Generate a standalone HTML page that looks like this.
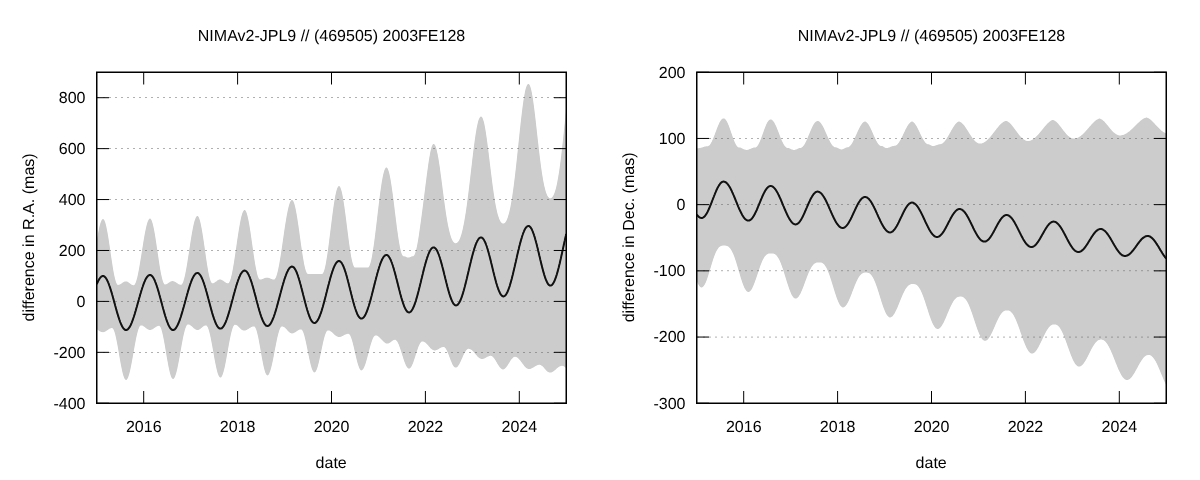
<!DOCTYPE html>
<html lang="en"><head><meta charset="utf-8"><title>NIMAv2-JPL9 // (469505) 2003FE128</title>
<style>html,body{margin:0;padding:0;background:#fff;width:1200px;height:480px;overflow:hidden}svg{display:block}</style></head>
<body>
<svg width="1200" height="480" viewBox="0 0 1200 480" font-family="'Liberation Sans', Arial, sans-serif" font-size="16" fill="#000" text-rendering="geometricPrecision">
<rect width="1200" height="480" fill="#fff"/>
<linearGradient id="g1" gradientUnits="userSpaceOnUse" x1="96.63" y1="0" x2="102.63" y2="0" spreadMethod="repeat"><stop offset="0" stop-color="#606060"/><stop offset="0.3333" stop-color="#606060"/><stop offset="0.3333" stop-color="#606060" stop-opacity="0"/><stop offset="1" stop-color="#606060" stop-opacity="0"/></linearGradient>
<clipPath id="c1"><rect x="96.75" y="72.25" width="469.50" height="331.00"/></clipPath>
<g clip-path="url(#c1)"><path d="M96.8 241.0L97.2 238.0L97.8 235.2L98.2 232.4L98.8 229.9L99.2 227.6L99.8 225.6L100.2 223.7L100.8 222.2L101.2 220.9L101.8 220.0L102.2 219.4L102.8 219.0L103.2 219.0L103.8 219.4L104.2 220.1L104.8 221.2L105.2 222.6L105.8 224.3L106.2 226.3L106.8 228.7L107.2 231.2L107.8 234.0L108.2 237.0L108.8 240.1L109.2 243.4L109.8 246.8L110.2 250.2L110.8 253.7L111.2 257.1L111.8 260.5L112.2 263.8L112.8 266.9L113.2 269.9L113.8 272.7L114.2 275.2L114.8 277.6L115.2 279.6L115.8 281.3L116.2 282.7L116.8 283.8L117.2 284.5L117.8 284.9L118.2 284.9L118.8 284.8L119.2 284.7L119.8 284.5L120.2 284.3L120.8 284.0L121.2 283.7L121.8 283.3L122.2 283.0L122.8 282.6L123.2 282.3L123.8 282.0L124.2 281.8L124.8 281.6L125.2 281.5L125.8 281.4L126.2 281.4L126.8 281.5L127.2 281.6L127.8 281.9L128.2 282.2L128.8 282.5L129.2 282.9L129.8 283.3L130.2 283.7L130.8 284.0L131.2 284.4L131.8 284.7L132.2 284.9L132.8 285.1L133.2 285.2L133.8 285.2L134.2 284.9L134.8 284.4L135.2 283.6L135.8 282.4L136.2 281.0L136.8 279.3L137.2 277.4L137.8 275.2L138.2 272.8L138.8 270.3L139.2 267.5L139.8 264.6L140.2 261.6L140.8 258.6L141.2 255.4L141.8 252.2L142.2 249.0L142.8 245.9L143.2 242.8L143.8 239.7L144.2 236.8L144.8 234.1L145.2 231.5L145.8 229.0L146.2 226.8L146.8 224.8L147.2 223.1L147.8 221.6L148.2 220.5L148.8 219.6L149.2 218.9L149.8 218.6L150.2 218.6L150.8 219.0L151.2 219.7L151.8 220.8L152.2 222.2L152.8 223.9L153.2 225.9L153.8 228.2L154.2 230.8L154.8 233.6L155.2 236.6L155.8 239.7L156.2 243.0L156.8 246.4L157.2 249.8L157.8 253.2L158.2 256.6L158.8 260.0L159.2 263.3L159.8 266.4L160.2 269.4L160.8 272.2L161.2 274.8L161.8 277.1L162.2 279.1L162.8 280.8L163.2 282.2L163.8 283.3L164.2 284.0L164.8 284.4L165.2 284.4L165.8 284.3L166.2 284.2L166.8 284.0L167.2 283.7L167.8 283.4L168.2 283.1L168.8 282.7L169.2 282.4L169.8 282.0L170.2 281.7L170.8 281.5L171.2 281.3L171.8 281.2L172.2 281.1L172.8 281.1L173.2 281.2L173.8 281.3L174.2 281.5L174.8 281.7L175.2 282.0L175.8 282.3L176.2 282.6L176.8 283.0L177.2 283.3L177.8 283.6L178.2 283.9L178.8 284.2L179.2 284.4L179.8 284.6L180.2 284.7L180.8 284.8L181.2 284.8L181.8 284.4L182.2 283.8L182.8 282.9L183.2 281.7L183.8 280.1L184.2 278.3L184.8 276.3L185.2 274.0L185.8 271.5L186.2 268.8L186.8 266.0L187.2 263.0L187.8 259.8L188.2 256.6L188.8 253.4L189.2 250.1L189.8 246.8L190.2 243.5L190.8 240.3L191.2 237.2L191.8 234.3L192.2 231.4L192.8 228.8L193.2 226.3L193.8 224.1L194.2 222.1L194.8 220.3L195.2 218.9L195.8 217.7L196.2 216.8L196.8 216.3L197.2 216.0L197.8 216.1L198.2 216.5L198.8 217.3L199.2 218.5L199.8 220.0L200.2 221.8L200.8 223.9L201.2 226.4L201.8 229.0L202.2 231.9L202.8 235.0L203.2 238.3L203.8 241.6L204.2 245.1L204.8 248.6L205.2 252.1L205.8 255.6L206.2 259.0L206.8 262.4L207.2 265.6L207.8 268.6L208.2 271.4L208.8 273.9L209.2 276.2L209.8 278.2L210.2 279.9L210.8 281.3L211.2 282.3L211.8 283.0L212.2 283.3L212.8 283.3L213.2 283.2L213.8 283.0L214.2 282.8L214.8 282.5L215.2 282.1L215.8 281.8L216.2 281.4L216.8 281.0L217.2 280.6L217.8 280.3L218.2 280.0L218.8 279.7L219.2 279.6L219.8 279.5L220.2 279.5L220.8 279.6L221.2 279.7L221.8 279.9L222.2 280.2L222.8 280.5L223.2 280.8L223.8 281.2L224.2 281.6L224.8 282.0L225.2 282.3L225.8 282.6L226.2 282.9L226.8 283.1L227.2 283.2L227.8 283.3L228.2 283.3L228.8 282.9L229.2 282.3L229.8 281.3L230.2 280.0L230.8 278.4L231.2 276.6L231.8 274.5L232.2 272.1L232.8 269.5L233.2 266.6L233.8 263.7L234.2 260.5L234.8 257.2L235.2 253.9L235.8 250.5L236.2 247.0L236.8 243.5L237.2 240.1L237.8 236.7L238.2 233.4L238.8 230.3L239.2 227.2L239.8 224.4L240.2 221.7L240.8 219.3L241.2 217.1L241.8 215.2L242.2 213.6L242.8 212.2L243.2 211.2L243.8 210.5L244.2 210.1L244.8 210.0L245.2 210.3L245.8 211.0L246.2 212.0L246.8 213.3L247.2 215.0L247.8 216.9L248.2 219.2L248.8 221.7L249.2 224.5L249.8 227.5L250.2 230.6L250.8 233.9L251.2 237.4L251.8 240.9L252.2 244.4L252.8 247.9L253.2 251.4L253.8 254.9L254.2 258.2L254.8 261.4L255.2 264.4L255.8 267.2L256.2 269.8L256.8 272.1L257.2 274.2L257.8 275.9L258.2 277.3L258.8 278.4L259.2 279.1L259.8 279.5L260.2 279.5L260.8 279.4L261.2 279.4L261.8 279.2L262.2 279.1L262.8 278.9L263.2 278.7L263.8 278.5L264.2 278.3L264.8 278.1L265.2 278.0L265.8 277.8L266.2 277.8L266.8 277.7L267.2 277.7L267.8 277.8L268.2 277.8L268.8 278.0L269.2 278.1L269.8 278.3L270.2 278.5L270.8 278.7L271.2 278.9L271.8 279.1L272.2 279.2L272.8 279.4L273.2 279.4L273.8 279.5L274.2 279.5L274.8 279.2L275.2 278.6L275.8 277.7L276.2 276.5L276.8 275.0L277.2 273.3L277.8 271.3L278.2 269.1L278.8 266.6L279.2 263.9L279.8 261.1L280.2 258.1L280.8 255.0L281.2 251.7L281.8 248.4L282.2 244.9L282.8 241.5L283.2 238.0L283.8 234.6L284.2 231.1L284.8 227.8L285.2 224.5L285.8 221.4L286.2 218.4L286.8 215.6L287.2 212.9L287.8 210.4L288.2 208.2L288.8 206.2L289.2 204.5L289.8 203.0L290.2 201.8L290.8 200.9L291.2 200.3L291.8 200.0L292.2 200.0L292.8 200.4L293.2 201.1L293.8 202.2L294.2 203.6L294.8 205.3L295.2 207.3L295.8 209.6L296.2 212.2L296.8 215.0L297.2 218.0L297.8 221.2L298.2 224.5L298.8 228.0L299.2 231.6L299.8 235.2L300.2 238.8L300.8 242.4L301.2 246.0L301.8 249.5L302.2 252.8L302.8 256.0L303.2 259.0L303.8 261.8L304.2 264.4L304.8 266.7L305.2 268.7L305.8 270.4L306.2 271.8L306.8 272.9L307.2 273.6L307.8 274.0L308.2 274.0L308.8 274.0L309.2 274.0L309.8 274.0L310.2 274.0L310.8 274.0L311.2 274.0L311.8 274.0L312.2 274.0L312.8 274.0L313.2 274.0L313.8 274.0L314.2 274.0L314.8 274.0L315.2 274.0L315.8 274.0L316.2 274.0L316.8 274.0L317.2 274.0L317.8 274.0L318.2 274.0L318.8 274.0L319.2 274.0L319.8 274.0L320.2 274.0L320.8 274.0L321.2 274.0L321.8 274.0L322.2 274.0L322.8 273.6L323.2 272.8L323.8 271.7L324.2 270.3L324.8 268.4L325.2 266.3L325.8 263.9L326.2 261.1L326.8 258.1L327.2 254.9L327.8 251.4L328.2 247.8L328.8 244.0L329.2 240.1L329.8 236.1L330.2 232.0L330.8 228.0L331.2 223.9L331.8 219.9L332.2 216.0L332.8 212.2L333.2 208.6L333.8 205.1L334.2 201.9L334.8 198.9L335.2 196.1L335.8 193.7L336.2 191.6L336.8 189.7L337.2 188.3L337.8 187.2L338.2 186.4L338.8 186.0L339.2 186.0L339.8 186.4L340.2 187.2L340.8 188.4L341.2 189.9L341.8 191.8L342.2 194.0L342.8 196.5L343.2 199.4L343.8 202.5L344.2 205.8L344.8 209.3L345.2 213.0L345.8 216.8L346.2 220.7L346.8 224.7L347.2 228.7L347.8 232.7L348.2 236.6L348.8 240.4L349.2 244.1L349.8 247.6L350.2 250.9L350.8 254.0L351.2 256.9L351.8 259.4L352.2 261.6L352.8 263.5L353.2 265.0L353.8 266.2L354.2 267.0L354.8 267.4L355.2 267.4L355.8 267.4L356.2 267.4L356.8 267.4L357.2 267.4L357.8 267.4L358.2 267.4L358.8 267.4L359.2 267.4L359.8 267.4L360.2 267.4L360.8 267.4L361.2 267.4L361.8 267.4L362.2 267.4L362.8 267.4L363.2 267.4L363.8 267.4L364.2 267.4L364.8 267.4L365.2 267.4L365.8 267.4L366.2 267.4L366.8 267.4L367.2 267.4L367.8 267.4L368.2 267.4L368.8 267.0L369.2 266.3L369.8 265.2L370.2 263.8L370.8 262.0L371.2 259.9L371.8 257.5L372.2 254.8L372.8 251.8L373.2 248.6L373.8 245.2L374.2 241.5L374.8 237.7L375.2 233.7L375.8 229.7L376.2 225.5L376.8 221.2L377.2 217.0L377.8 212.7L378.2 208.5L378.8 204.3L379.2 200.3L379.8 196.3L380.2 192.5L380.8 188.9L381.2 185.5L381.8 182.3L382.2 179.4L382.8 176.8L383.2 174.5L383.8 172.4L384.2 170.7L384.8 169.4L385.2 168.4L385.8 167.7L386.2 167.4L386.8 167.5L387.2 167.9L387.8 168.8L388.2 169.9L388.8 171.5L389.2 173.3L389.8 175.5L390.2 178.1L390.8 180.8L391.2 183.9L391.8 187.2L392.2 190.7L392.8 194.3L393.2 198.2L393.8 202.1L394.2 206.1L394.8 210.2L395.2 214.2L395.8 218.3L396.2 222.3L396.8 226.2L397.2 230.0L397.8 233.6L398.2 237.1L398.8 240.3L399.2 243.3L399.8 246.1L400.2 248.5L400.8 250.7L401.2 252.5L401.8 253.9L402.2 255.0L402.8 255.8L403.2 256.2L403.8 256.2L404.2 256.3L404.8 256.4L405.2 256.6L405.8 256.8L406.2 257.1L406.8 257.3L407.2 257.4L407.8 257.6L408.2 257.6L408.8 257.6L409.2 257.5L409.8 257.3L410.2 257.1L410.8 256.9L411.2 256.6L411.8 256.4L412.2 256.3L412.8 256.2L413.2 256.2L413.8 255.8L414.2 255.2L414.8 254.2L415.2 252.9L415.8 251.3L416.2 249.4L416.8 247.3L417.2 244.8L417.8 242.1L418.2 239.2L418.8 236.0L419.2 232.6L419.8 229.0L420.2 225.4L420.8 221.9L421.2 218.3L421.8 214.6L422.2 210.8L422.8 207.0L423.2 203.1L423.8 199.1L424.2 195.2L424.8 191.2L425.2 187.3L425.8 183.3L426.2 179.4L426.8 175.6L427.2 171.8L427.8 168.2L428.2 164.6L428.8 161.3L429.2 158.1L429.8 155.2L430.2 152.6L430.8 150.2L431.2 148.2L431.8 146.6L432.2 145.4L432.8 144.5L433.2 144.1L433.8 144.0L434.2 144.2L434.8 144.8L435.2 145.6L435.8 146.8L436.2 148.3L436.8 150.2L437.2 152.4L437.8 154.8L438.2 157.6L438.8 160.5L439.2 163.7L439.8 167.1L440.2 170.7L440.8 174.4L441.2 178.1L441.8 182.0L442.2 185.8L442.8 189.7L443.2 193.6L443.8 197.4L444.2 201.1L444.8 204.7L445.2 208.3L445.8 211.7L446.2 214.9L446.8 218.0L447.2 220.9L447.8 223.7L448.2 226.3L448.8 228.6L449.2 230.8L449.8 232.8L450.2 234.6L450.8 236.3L451.2 237.7L451.8 238.9L452.2 240.0L452.8 240.9L453.2 241.7L453.8 242.3L454.2 242.7L454.8 243.0L455.2 243.2L455.8 243.2L456.2 243.1L456.8 242.9L457.2 242.6L457.8 242.2L458.2 241.6L458.8 240.9L459.2 240.0L459.8 238.9L460.2 237.7L460.8 236.3L461.2 234.7L461.8 233.0L462.2 231.1L462.8 228.9L463.2 226.6L463.8 224.1L464.2 221.5L464.8 218.6L465.2 215.6L465.8 212.4L466.2 209.0L466.8 205.4L467.2 201.8L467.8 197.9L468.2 194.0L468.8 189.9L469.2 185.8L469.8 181.6L470.2 177.3L470.8 173.0L471.2 168.7L471.8 164.4L472.2 160.1L472.8 155.9L473.2 151.8L473.8 147.8L474.2 143.9L474.8 140.2L475.2 136.7L475.8 133.4L476.2 130.4L476.8 127.6L477.2 125.2L477.8 123.0L478.2 121.1L478.8 119.6L479.2 118.4L479.8 117.5L480.2 116.9L480.8 116.6L481.2 116.6L481.8 116.9L482.2 117.6L482.8 118.6L483.2 119.9L483.8 121.6L484.2 123.6L484.8 126.0L485.2 128.7L485.8 131.7L486.2 134.9L486.8 138.4L487.2 142.1L487.8 145.9L488.2 149.9L488.8 153.9L489.2 158.0L489.8 162.2L490.2 166.3L490.8 170.5L491.2 174.5L491.8 178.5L492.2 182.4L492.8 186.2L493.2 189.8L493.8 193.3L494.2 196.6L494.8 199.8L495.2 202.7L495.8 205.4L496.2 208.0L496.8 210.3L497.2 212.4L497.8 214.4L498.2 216.1L498.8 217.6L499.2 219.0L499.8 220.1L500.2 221.1L500.8 221.9L501.2 222.5L501.8 223.0L502.2 223.3L502.8 223.5L503.2 223.5L503.8 223.4L504.2 223.2L504.8 222.9L505.2 222.4L505.8 221.7L506.2 220.9L506.8 219.9L507.2 218.7L507.8 217.4L508.2 215.8L508.8 214.1L509.2 212.2L509.8 210.0L510.2 207.7L510.8 205.1L511.2 202.3L511.8 199.4L512.2 196.2L512.8 192.8L513.2 189.2L513.8 185.5L514.2 181.6L514.8 177.5L515.2 173.2L515.8 168.8L516.2 164.3L516.8 159.7L517.2 155.1L517.8 150.3L518.2 145.6L518.8 140.8L519.2 136.0L519.8 131.3L520.2 126.7L520.8 122.1L521.2 117.7L521.8 113.5L522.2 109.4L522.8 105.6L523.2 102.0L523.8 98.7L524.2 95.7L524.8 93.0L525.2 90.6L525.8 88.6L526.2 87.0L526.8 85.7L527.2 84.8L527.8 84.3L528.2 84.0L528.8 84.1L529.2 84.5L529.8 85.3L530.2 86.4L530.8 88.0L531.2 89.9L531.8 92.2L532.2 94.9L532.8 97.9L533.2 101.3L533.8 104.9L534.2 108.7L534.8 112.7L535.2 116.9L535.8 121.3L536.2 125.7L536.8 130.2L537.2 134.7L537.8 139.2L538.2 143.6L538.8 148.0L539.2 152.3L539.8 156.5L540.2 160.5L540.8 164.3L541.2 168.0L541.8 171.5L542.2 174.8L542.8 177.8L543.2 180.7L543.8 183.3L544.2 185.7L544.8 187.8L545.2 189.8L545.8 191.5L546.2 193.0L546.8 194.3L547.2 195.4L547.8 196.3L548.2 197.1L548.8 197.6L549.2 198.0L549.8 198.2L550.2 198.3L550.8 198.2L551.2 198.1L551.8 197.7L552.2 197.2L552.8 196.6L553.2 195.8L553.8 194.8L554.2 193.6L554.8 192.2L555.2 190.6L555.8 188.9L556.2 186.9L556.8 184.7L557.2 182.3L557.8 179.6L558.2 176.8L558.8 173.7L559.2 170.4L559.8 166.9L560.2 163.2L560.8 159.4L561.2 155.3L561.8 151.0L562.2 146.6L562.8 142.1L563.2 137.4L563.8 132.5L564.2 127.6L564.8 122.7L565.2 117.7L565.8 112.6L566.2 107.6L566.2 368.4L565.8 367.8L565.2 367.4L564.8 366.9L564.2 366.6L563.8 366.3L563.2 366.0L562.8 365.9L562.2 365.8L561.8 365.8L561.2 365.9L560.8 366.0L560.2 366.2L559.8 366.4L559.2 366.6L558.8 367.0L558.2 367.3L557.8 367.7L557.2 368.1L556.8 368.5L556.2 369.0L555.8 369.4L555.2 369.9L554.8 370.3L554.2 370.7L553.8 371.1L553.2 371.4L552.8 371.8L552.2 372.0L551.8 372.2L551.2 372.4L550.8 372.5L550.2 372.6L549.8 372.6L549.2 372.5L548.8 372.3L548.2 372.1L547.8 371.8L547.2 371.4L546.8 370.9L546.2 370.4L545.8 369.9L545.2 369.3L544.8 368.8L544.2 368.2L543.8 367.6L543.2 367.1L542.8 366.6L542.2 366.1L541.8 365.7L541.2 365.4L540.8 365.1L540.2 364.9L539.8 364.8L539.2 364.8L538.8 364.8L538.2 364.9L537.8 365.1L537.2 365.2L536.8 365.4L536.2 365.7L535.8 366.0L535.2 366.2L534.8 366.6L534.2 366.9L533.8 367.2L533.2 367.5L532.8 367.8L532.2 368.1L531.8 368.3L531.2 368.5L530.8 368.7L530.2 368.9L529.8 368.9L529.2 369.0L528.8 369.0L528.2 368.9L527.8 368.8L527.2 368.5L526.8 368.2L526.2 367.9L525.8 367.4L525.2 367.0L524.8 366.4L524.2 365.9L523.8 365.2L523.2 364.6L522.8 363.9L522.2 363.2L521.8 362.6L521.2 361.9L520.8 361.2L520.2 360.6L519.8 359.9L519.2 359.4L518.8 358.8L518.2 358.4L517.8 357.9L517.2 357.6L516.8 357.3L516.2 357.0L515.8 356.9L515.2 356.8L514.8 356.8L514.2 356.9L513.8 357.1L513.2 357.4L512.8 357.9L512.2 358.4L511.8 358.9L511.2 359.6L510.8 360.3L510.2 361.1L509.8 361.9L509.2 362.7L508.8 363.5L508.2 364.3L507.8 365.1L507.2 365.9L506.8 366.6L506.2 367.3L505.8 367.8L505.2 368.3L504.8 368.8L504.2 369.1L503.8 369.3L503.2 369.4L502.8 369.4L502.2 369.3L501.8 369.1L501.2 368.7L500.8 368.3L500.2 367.8L499.8 367.2L499.2 366.6L498.8 365.8L498.2 365.0L497.8 364.2L497.2 363.4L496.8 362.5L496.2 361.7L495.8 360.8L495.2 360.0L494.8 359.2L494.2 358.5L493.8 357.9L493.2 357.3L492.8 356.8L492.2 356.4L491.8 356.1L491.2 355.9L490.8 355.8L490.2 355.8L489.8 355.9L489.2 356.0L488.8 356.2L488.2 356.4L487.8 356.6L487.2 356.9L486.8 357.1L486.2 357.4L485.8 357.7L485.2 358.0L484.8 358.3L484.2 358.5L483.8 358.7L483.2 358.8L482.8 358.9L482.2 359.0L481.8 359.0L481.2 358.9L480.8 358.8L480.2 358.6L479.8 358.3L479.2 358.0L478.8 357.6L478.2 357.2L477.8 356.7L477.2 356.2L476.8 355.6L476.2 355.0L475.8 354.4L475.2 353.8L474.8 353.2L474.2 352.7L473.8 352.1L473.2 351.5L472.8 351.0L472.2 350.6L471.8 350.1L471.2 349.8L470.8 349.4L470.2 349.2L469.8 349.0L469.2 348.9L468.8 348.8L468.2 348.8L467.8 349.0L467.2 349.3L466.8 349.7L466.2 350.3L465.8 350.9L465.2 351.7L464.8 352.6L464.2 353.5L463.8 354.6L463.2 355.6L462.8 356.7L462.2 357.9L461.8 359.0L461.2 360.1L460.8 361.2L460.2 362.3L459.8 363.3L459.2 364.2L458.8 365.0L458.2 365.7L457.8 366.4L457.2 366.9L456.8 367.2L456.2 367.5L455.8 367.6L455.2 367.6L454.8 367.3L454.2 367.0L453.8 366.4L453.2 365.7L452.8 364.9L452.2 363.9L451.8 362.8L451.2 361.6L450.8 360.4L450.2 359.0L449.8 357.7L449.2 356.4L448.8 355.0L448.2 353.7L447.8 352.5L447.2 351.4L446.8 350.3L446.2 349.4L445.8 348.6L445.2 347.9L444.8 347.5L444.2 347.1L443.8 347.0L443.2 347.0L442.8 347.1L442.2 347.2L441.8 347.3L441.2 347.5L440.8 347.8L440.2 348.0L439.8 348.3L439.2 348.6L438.8 348.9L438.2 349.2L437.8 349.5L437.2 349.7L436.8 349.9L436.2 350.1L435.8 350.3L435.2 350.4L434.8 350.4L434.2 350.4L433.8 350.3L433.2 350.1L432.8 349.9L432.2 349.6L431.8 349.2L431.2 348.8L430.8 348.4L430.2 347.9L429.8 347.3L429.2 346.8L428.8 346.2L428.2 345.6L427.8 345.0L427.2 344.5L426.8 343.9L426.2 343.4L425.8 343.0L425.2 342.6L424.8 342.2L424.2 341.9L423.8 341.7L423.2 341.5L422.8 341.4L422.2 341.4L421.8 341.6L421.2 341.9L420.8 342.4L420.2 343.1L419.8 343.9L419.2 344.9L418.8 346.1L418.2 347.3L417.8 348.7L417.2 350.2L416.8 351.7L416.2 353.3L415.8 354.8L415.2 356.4L414.8 358.0L414.2 359.5L413.8 361.0L413.2 362.4L412.8 363.7L412.2 364.8L411.8 365.9L411.2 366.8L410.8 367.5L410.2 368.0L409.8 368.4L409.2 368.6L408.8 368.6L408.2 368.4L407.8 368.0L407.2 367.5L406.8 366.8L406.2 365.9L405.8 364.9L405.2 363.8L404.8 362.5L404.2 361.2L403.8 359.7L403.2 358.2L402.8 356.6L402.2 355.0L401.8 353.4L401.2 351.8L400.8 350.2L400.2 348.7L399.8 347.2L399.2 345.9L398.8 344.6L398.2 343.5L397.8 342.5L397.2 341.6L396.8 340.9L396.2 340.4L395.8 340.0L395.2 339.8L394.8 339.8L394.2 339.9L393.8 340.0L393.2 340.3L392.8 340.6L392.2 340.9L391.8 341.3L391.2 341.7L390.8 342.1L390.2 342.4L389.8 342.8L389.2 343.1L388.8 343.3L388.2 343.5L387.8 343.6L387.2 343.6L386.8 343.5L386.2 343.4L385.8 343.2L385.2 342.9L384.8 342.6L384.2 342.2L383.8 341.8L383.2 341.3L382.8 340.8L382.2 340.3L381.8 339.8L381.2 339.2L380.8 338.7L380.2 338.2L379.8 337.7L379.2 337.2L378.8 336.8L378.2 336.4L377.8 336.1L377.2 335.8L376.8 335.6L376.2 335.5L375.8 335.4L375.2 335.5L374.8 335.7L374.2 336.2L373.8 336.8L373.2 337.7L372.8 338.8L372.2 340.0L371.8 341.4L371.2 342.9L370.8 344.5L370.2 346.3L369.8 348.1L369.2 350.0L368.8 351.9L368.2 353.9L367.8 355.8L367.2 357.7L366.8 359.5L366.2 361.3L365.8 362.9L365.2 364.4L364.8 365.8L364.2 367.0L363.8 368.1L363.2 369.0L362.8 369.6L362.2 370.1L361.8 370.3L361.2 370.4L360.8 370.2L360.2 369.7L359.8 369.0L359.2 368.0L358.8 366.8L358.2 365.3L357.8 363.7L357.2 361.9L356.8 360.0L356.2 358.0L355.8 355.8L355.2 353.6L354.8 351.4L354.2 349.2L353.8 347.1L353.2 345.0L352.8 343.0L352.2 341.2L351.8 339.5L351.2 338.0L350.8 336.7L350.2 335.6L349.8 334.8L349.2 334.2L348.8 333.9L348.2 333.8L347.8 333.8L347.2 333.9L346.8 334.0L346.2 334.2L345.8 334.4L345.2 334.6L344.8 334.8L344.2 335.1L343.8 335.4L343.2 335.6L342.8 335.9L342.2 336.1L341.8 336.4L341.2 336.6L340.8 336.7L340.2 336.9L339.8 336.9L339.2 337.0L338.8 337.0L338.2 336.9L337.8 336.8L337.2 336.6L336.8 336.3L336.2 336.0L335.8 335.7L335.2 335.3L334.8 334.9L334.2 334.4L333.8 333.9L333.2 333.5L332.8 333.0L332.2 332.5L331.8 332.1L331.2 331.7L330.8 331.4L330.2 331.1L329.8 330.8L329.2 330.6L328.8 330.5L328.2 330.4L327.8 330.4L327.2 330.7L326.8 331.3L326.2 332.1L325.8 333.2L325.2 334.5L324.8 336.0L324.2 337.8L323.8 339.7L323.2 341.8L322.8 344.0L322.2 346.4L321.8 348.7L321.2 351.2L320.8 353.6L320.2 356.0L319.8 358.3L319.2 360.5L318.8 362.7L318.2 364.6L317.8 366.4L317.2 368.0L316.8 369.4L316.2 370.5L315.8 371.4L315.2 372.0L314.8 372.3L314.2 372.4L313.8 372.2L313.2 371.6L312.8 370.8L312.2 369.7L311.8 368.4L311.2 366.8L310.8 365.0L310.2 363.0L309.8 360.8L309.2 358.5L308.8 356.1L308.2 353.7L307.8 351.2L307.2 348.6L306.8 346.2L306.2 343.7L305.8 341.4L305.2 339.2L304.8 337.2L304.2 335.3L303.8 333.7L303.2 332.3L302.8 331.2L302.2 330.3L301.8 329.7L301.2 329.4L300.8 329.4L300.2 329.5L299.8 329.6L299.2 329.8L298.8 330.0L298.2 330.3L297.8 330.6L297.2 330.9L296.8 331.2L296.2 331.6L295.8 331.9L295.2 332.2L294.8 332.5L294.2 332.8L293.8 333.0L293.2 333.2L292.8 333.3L292.2 333.4L291.8 333.4L291.2 333.3L290.8 333.1L290.2 332.9L289.8 332.6L289.2 332.2L288.8 331.7L288.2 331.2L287.8 330.7L287.2 330.2L286.8 329.6L286.2 329.1L285.8 328.6L285.2 328.1L284.8 327.6L284.2 327.2L283.8 326.9L283.2 326.7L282.8 326.5L282.2 326.4L281.8 326.4L281.2 326.7L280.8 327.3L280.2 328.1L279.8 329.2L279.2 330.6L278.8 332.2L278.2 334.0L277.8 336.0L277.2 338.1L276.8 340.4L276.2 342.9L275.8 345.4L275.2 348.0L274.8 350.6L274.2 353.3L273.8 355.9L273.2 358.4L272.8 360.9L272.2 363.2L271.8 365.4L271.2 367.5L270.8 369.3L270.2 370.9L269.8 372.3L269.2 373.5L268.8 374.4L268.2 375.0L267.8 375.3L267.2 375.4L266.8 375.1L266.2 374.5L265.8 373.6L265.2 372.4L264.8 370.8L264.2 369.0L263.8 367.0L263.2 364.7L262.8 362.2L262.2 359.6L261.8 356.9L261.2 354.1L260.8 351.2L260.2 348.3L259.8 345.5L259.2 342.7L258.8 340.1L258.2 337.6L257.8 335.3L257.2 333.2L256.8 331.3L256.2 329.7L255.8 328.4L255.2 327.4L254.8 326.8L254.2 326.4L253.8 326.4L253.2 326.5L252.8 326.6L252.2 326.7L251.8 326.9L251.2 327.1L250.8 327.4L250.2 327.7L249.8 328.0L249.2 328.3L248.8 328.7L248.2 329.0L247.8 329.3L247.2 329.6L246.8 329.9L246.2 330.1L245.8 330.3L245.2 330.4L244.8 330.5L244.2 330.6L243.8 330.6L243.2 330.5L242.8 330.3L242.2 330.1L241.8 329.8L241.2 329.4L240.8 328.9L240.2 328.5L239.8 328.0L239.2 327.4L238.8 326.9L238.2 326.5L237.8 326.0L237.2 325.6L236.8 325.3L236.2 325.1L235.8 324.9L235.2 324.8L234.8 324.8L234.2 325.1L233.8 325.7L233.2 326.6L232.8 327.8L232.2 329.3L231.8 331.0L231.2 332.9L230.8 335.1L230.2 337.4L229.8 339.9L229.2 342.6L228.8 345.3L228.2 348.1L227.8 350.9L227.2 353.8L226.8 356.6L226.2 359.3L225.8 362.0L225.2 364.5L224.8 366.9L224.2 369.0L223.8 371.0L223.2 372.8L222.8 374.3L222.2 375.5L221.8 376.5L221.2 377.2L220.8 377.5L220.2 377.6L219.8 377.3L219.2 376.8L218.8 375.9L218.2 374.8L217.8 373.4L217.2 371.7L216.8 369.8L216.2 367.6L215.8 365.3L215.2 362.8L214.8 360.2L214.2 357.4L213.8 354.6L213.2 351.8L212.8 348.9L212.2 346.1L211.8 343.4L211.2 340.7L210.8 338.2L210.2 335.8L209.8 333.7L209.2 331.7L208.8 330.0L208.2 328.5L207.8 327.3L207.2 326.4L206.8 325.7L206.2 325.4L205.8 325.4L205.2 325.5L204.8 325.6L204.2 325.9L203.8 326.1L203.2 326.5L202.8 326.8L202.2 327.2L201.8 327.7L201.2 328.1L200.8 328.5L200.2 328.9L199.8 329.2L199.2 329.5L198.8 329.7L198.2 329.9L197.8 330.0L197.2 330.0L196.8 329.9L196.2 329.8L195.8 329.6L195.2 329.3L194.8 329.0L194.2 328.6L193.8 328.2L193.2 327.7L192.8 327.2L192.2 326.8L191.8 326.3L191.2 325.9L190.8 325.5L190.2 325.2L189.8 324.9L189.2 324.6L188.8 324.5L188.2 324.4L187.8 324.4L187.2 324.7L186.8 325.3L186.2 326.2L185.8 327.4L185.2 328.8L184.8 330.5L184.2 332.4L183.8 334.5L183.2 336.8L182.8 339.3L182.2 341.9L181.8 344.6L181.2 347.4L180.8 350.3L180.2 353.1L179.8 356.0L179.2 358.8L178.8 361.5L178.2 364.1L177.8 366.6L177.2 368.9L176.8 371.0L176.2 372.9L175.8 374.6L175.2 376.0L174.8 377.2L174.2 378.1L173.8 378.7L173.2 379.0L172.8 379.0L172.2 378.6L171.8 378.0L171.2 377.0L170.8 375.7L170.2 374.1L169.8 372.2L169.2 370.1L168.8 367.8L168.2 365.3L167.8 362.6L167.2 359.8L166.8 356.9L166.2 353.9L165.8 350.9L165.2 347.9L164.8 345.0L164.2 342.2L163.8 339.5L163.2 337.0L162.8 334.7L162.2 332.6L161.8 330.7L161.2 329.1L160.8 327.8L160.2 326.8L159.8 326.2L159.2 325.8L158.8 325.8L158.2 325.9L157.8 326.0L157.2 326.2L156.8 326.4L156.2 326.7L155.8 327.0L155.2 327.4L154.8 327.7L154.2 328.1L153.8 328.4L153.2 328.8L152.8 329.1L152.2 329.4L151.8 329.6L151.2 329.8L150.8 329.9L150.2 330.0L149.8 330.0L149.2 329.9L148.8 329.8L148.2 329.6L147.8 329.3L147.2 329.0L146.8 328.7L146.2 328.3L145.8 327.9L145.2 327.5L144.8 327.1L144.2 326.7L143.8 326.4L143.2 326.1L142.8 325.8L142.2 325.6L141.8 325.5L141.2 325.4L140.8 325.4L140.2 325.7L139.8 326.3L139.2 327.2L138.8 328.4L138.2 329.8L137.8 331.5L137.2 333.4L136.8 335.5L136.2 337.8L135.8 340.3L135.2 342.9L134.8 345.6L134.2 348.4L133.8 351.3L133.2 354.1L132.8 357.0L132.2 359.8L131.8 362.5L131.2 365.1L130.8 367.6L130.2 369.9L129.8 372.0L129.2 373.9L128.8 375.6L128.2 377.0L127.8 378.2L127.2 379.1L126.8 379.7L126.2 380.0L125.8 380.0L125.2 379.6L124.8 379.0L124.2 378.0L123.8 376.8L123.2 375.2L122.8 373.4L122.2 371.3L121.8 369.0L121.2 366.6L120.8 363.9L120.2 361.2L119.8 358.4L119.2 355.5L118.8 352.5L118.2 349.6L117.8 346.8L117.2 344.1L116.8 341.4L116.2 339.0L115.8 336.7L115.2 334.6L114.8 332.8L114.2 331.2L113.8 330.0L113.2 329.0L112.8 328.4L112.2 328.0L111.8 328.0L111.2 328.1L110.8 328.2L110.2 328.4L109.8 328.6L109.2 328.9L108.8 329.2L108.2 329.6L107.8 329.9L107.2 330.3L106.8 330.6L106.2 331.0L105.8 331.3L105.2 331.6L104.8 331.8L104.2 332.0L103.8 332.1L103.2 332.2L102.8 332.2L102.2 332.1L101.8 332.0L101.2 331.9L100.8 331.7L100.2 331.5L99.8 331.2L99.2 330.9L98.8 330.6L98.2 330.3L97.8 329.9L97.2 329.6L96.8 329.3Z" fill="#cccccc"/></g>
<rect x="96.75" y="352.08" width="469.50" height="0.5" fill="url(#g1)"/>
<rect x="96.75" y="301.15" width="469.50" height="0.5" fill="url(#g1)"/>
<rect x="96.75" y="250.23" width="469.50" height="0.5" fill="url(#g1)"/>
<rect x="96.75" y="199.31" width="469.50" height="0.5" fill="url(#g1)"/>
<rect x="96.75" y="148.38" width="469.50" height="0.5" fill="url(#g1)"/>
<rect x="96.75" y="97.46" width="469.50" height="0.5" fill="url(#g1)"/>
<g clip-path="url(#c1)"><path d="M96.8 284.3L97.2 283.1L97.8 282.0L98.2 280.9L98.8 280.0L99.2 279.1L99.8 278.3L100.2 277.7L100.8 277.1L101.2 276.7L101.8 276.4L102.2 276.1L102.8 276.0L103.2 276.0L103.8 276.1L104.2 276.4L104.8 276.8L105.2 277.3L105.8 277.9L106.2 278.6L106.8 279.5L107.2 280.4L107.8 281.5L108.2 282.6L108.8 283.9L109.2 285.3L109.8 286.7L110.2 288.2L110.8 289.8L111.2 291.4L111.8 293.1L112.2 294.8L112.8 296.6L113.2 298.4L113.8 300.2L114.2 302.1L114.8 303.9L115.2 305.8L115.8 307.6L116.2 309.4L116.8 311.2L117.2 312.9L117.8 314.6L118.2 316.2L118.8 317.8L119.2 319.3L119.8 320.7L120.2 322.1L120.8 323.4L121.2 324.5L121.8 325.6L122.2 326.5L122.8 327.4L123.2 328.1L123.8 328.7L124.2 329.2L124.8 329.6L125.2 329.9L125.8 330.0L126.2 330.0L126.8 329.9L127.2 329.6L127.8 329.3L128.2 328.8L128.8 328.2L129.2 327.5L129.8 326.8L130.2 325.9L130.8 324.9L131.2 323.8L131.8 322.6L132.2 321.3L132.8 319.9L133.2 318.5L133.8 317.0L134.2 315.5L134.8 313.8L135.2 312.2L135.8 310.5L136.2 308.7L136.8 307.0L137.2 305.2L137.8 303.4L138.2 301.6L138.8 299.8L139.2 298.0L139.8 296.3L140.2 294.5L140.8 292.8L141.2 291.2L141.8 289.5L142.2 288.0L142.8 286.5L143.2 285.1L143.8 283.7L144.2 282.4L144.8 281.2L145.2 280.1L145.8 279.1L146.2 278.2L146.8 277.5L147.2 276.8L147.8 276.2L148.2 275.7L148.8 275.4L149.2 275.1L149.8 275.0L150.2 275.0L150.8 275.1L151.2 275.4L151.8 275.8L152.2 276.3L152.8 276.9L153.2 277.7L153.8 278.5L154.2 279.5L154.8 280.6L155.2 281.8L155.8 283.1L156.2 284.4L156.8 285.9L157.2 287.4L157.8 289.0L158.2 290.7L158.8 292.4L159.2 294.2L159.8 296.0L160.2 297.8L160.8 299.7L161.2 301.6L161.8 303.4L162.2 305.3L162.8 307.2L163.2 309.0L163.8 310.8L164.2 312.6L164.8 314.3L165.2 316.0L165.8 317.6L166.2 319.1L166.8 320.6L167.2 321.9L167.8 323.2L168.2 324.4L168.8 325.5L169.2 326.5L169.8 327.3L170.2 328.1L170.8 328.7L171.2 329.2L171.8 329.6L172.2 329.9L172.8 330.0L173.2 330.0L173.8 329.9L174.2 329.6L174.8 329.3L175.2 328.8L175.8 328.2L176.2 327.5L176.8 326.7L177.2 325.8L177.8 324.8L178.2 323.7L178.8 322.5L179.2 321.3L179.8 319.9L180.2 318.5L180.8 317.0L181.2 315.4L181.8 313.7L182.2 312.1L182.8 310.3L183.2 308.6L183.8 306.8L184.2 305.0L184.8 303.2L185.2 301.3L185.8 299.5L186.2 297.7L186.8 295.8L187.2 294.1L187.8 292.3L188.2 290.6L188.8 288.9L189.2 287.3L189.8 285.7L190.2 284.2L190.8 282.8L191.2 281.5L191.8 280.2L192.2 279.0L192.8 278.0L193.2 277.0L193.8 276.1L194.2 275.3L194.8 274.6L195.2 274.1L195.8 273.6L196.2 273.3L196.8 273.1L197.2 273.0L197.8 273.0L198.2 273.2L198.8 273.5L199.2 273.9L199.8 274.4L200.2 275.1L200.8 275.9L201.2 276.8L201.8 277.8L202.2 278.9L202.8 280.1L203.2 281.4L203.8 282.8L204.2 284.3L204.8 285.9L205.2 287.5L205.8 289.2L206.2 291.0L206.8 292.8L207.2 294.6L207.8 296.5L208.2 298.3L208.8 300.2L209.2 302.1L209.8 304.0L210.2 305.9L210.8 307.8L211.2 309.6L211.8 311.4L212.2 313.1L212.8 314.8L213.2 316.4L213.8 317.9L214.2 319.4L214.8 320.7L215.2 322.0L215.8 323.2L216.2 324.3L216.8 325.2L217.2 326.1L217.8 326.8L218.2 327.4L218.8 327.9L219.2 328.3L219.8 328.5L220.2 328.6L220.8 328.6L221.2 328.4L221.8 328.2L222.2 327.8L222.8 327.3L223.2 326.6L223.8 325.9L224.2 325.1L224.8 324.1L225.2 323.0L225.8 321.9L226.2 320.6L226.8 319.3L227.2 317.9L227.8 316.4L228.2 314.8L228.8 313.2L229.2 311.5L229.8 309.7L230.2 308.0L230.8 306.1L231.2 304.3L231.8 302.4L232.2 300.5L232.8 298.7L233.2 296.8L233.8 294.9L234.2 293.1L234.8 291.2L235.2 289.5L235.8 287.7L236.2 286.0L236.8 284.4L237.2 282.8L237.8 281.3L238.2 279.9L238.8 278.6L239.2 277.3L239.8 276.2L240.2 275.1L240.8 274.1L241.2 273.3L241.8 272.6L242.2 271.9L242.8 271.4L243.2 271.0L243.8 270.8L244.2 270.6L244.8 270.6L245.2 270.7L245.8 270.9L246.2 271.3L246.8 271.8L247.2 272.4L247.8 273.2L248.2 274.0L248.8 275.0L249.2 276.1L249.8 277.3L250.2 278.6L250.8 280.0L251.2 281.4L251.8 283.0L252.2 284.6L252.8 286.3L253.2 288.1L253.8 289.8L254.2 291.7L254.8 293.6L255.2 295.4L255.8 297.3L256.2 299.3L256.8 301.2L257.2 303.0L257.8 304.9L258.2 306.8L258.8 308.5L259.2 310.3L259.8 312.0L260.2 313.6L260.8 315.2L261.2 316.6L261.8 318.0L262.2 319.3L262.8 320.5L263.2 321.6L263.8 322.6L264.2 323.4L264.8 324.2L265.2 324.8L265.8 325.3L266.2 325.7L266.8 325.9L267.2 326.0L267.8 326.0L268.2 325.8L268.8 325.6L269.2 325.2L269.8 324.7L270.2 324.1L270.8 323.3L271.2 322.5L271.8 321.5L272.2 320.5L272.8 319.3L273.2 318.1L273.8 316.8L274.2 315.3L274.8 313.8L275.2 312.3L275.8 310.7L276.2 309.0L276.8 307.2L277.2 305.4L277.8 303.6L278.2 301.8L278.8 299.9L279.2 298.0L279.8 296.1L280.2 294.2L280.8 292.3L281.2 290.5L281.8 288.6L282.2 286.8L282.8 285.0L283.2 283.3L283.8 281.6L284.2 280.0L284.8 278.4L285.2 277.0L285.8 275.6L286.2 274.3L286.8 273.0L287.2 271.9L287.8 270.9L288.2 269.9L288.8 269.1L289.2 268.4L289.8 267.8L290.2 267.3L290.8 267.0L291.2 266.7L291.8 266.6L292.2 266.6L292.8 266.8L293.2 267.0L293.8 267.4L294.2 268.0L294.8 268.7L295.2 269.5L295.8 270.4L296.2 271.5L296.8 272.6L297.2 273.9L297.8 275.3L298.2 276.8L298.8 278.3L299.2 280.0L299.8 281.7L300.2 283.5L300.8 285.3L301.2 287.2L301.8 289.1L302.2 291.1L302.8 293.0L303.2 295.0L303.8 297.0L304.2 298.9L304.8 300.9L305.2 302.8L305.8 304.7L306.2 306.5L306.8 308.3L307.2 310.0L307.8 311.6L308.2 313.1L308.8 314.6L309.2 316.0L309.8 317.2L310.2 318.4L310.8 319.4L311.2 320.3L311.8 321.1L312.2 321.7L312.8 322.2L313.2 322.6L313.8 322.9L314.2 323.0L314.8 323.0L315.2 322.8L315.8 322.5L316.2 322.1L316.8 321.6L317.2 321.0L317.8 320.2L318.2 319.3L318.8 318.3L319.2 317.2L319.8 316.0L320.2 314.7L320.8 313.4L321.2 311.9L321.8 310.3L322.2 308.7L322.8 307.0L323.2 305.2L323.8 303.4L324.2 301.5L324.8 299.6L325.2 297.7L325.8 295.8L326.2 293.8L326.8 291.8L327.2 289.8L327.8 287.9L328.2 285.9L328.8 284.0L329.2 282.1L329.8 280.2L330.2 278.4L330.8 276.7L331.2 275.0L331.8 273.4L332.2 271.8L332.8 270.4L333.2 269.0L333.8 267.7L334.2 266.5L334.8 265.5L335.2 264.5L335.8 263.6L336.2 262.9L336.8 262.3L337.2 261.8L337.8 261.4L338.2 261.1L338.8 261.0L339.2 261.0L339.8 261.2L340.2 261.4L340.8 261.9L341.2 262.4L341.8 263.1L342.2 263.9L342.8 264.9L343.2 266.0L343.8 267.2L344.2 268.5L344.8 269.9L345.2 271.4L345.8 273.0L346.2 274.6L346.8 276.4L347.2 278.2L347.8 280.1L348.2 282.0L348.8 284.0L349.2 286.0L349.8 288.0L350.2 290.0L350.8 292.0L351.2 294.0L351.8 296.0L352.2 298.0L352.8 299.9L353.2 301.7L353.8 303.6L354.2 305.3L354.8 307.0L355.2 308.5L355.8 310.0L356.2 311.4L356.8 312.7L357.2 313.9L357.8 314.9L358.2 315.8L358.8 316.6L359.2 317.3L359.8 317.8L360.2 318.2L360.8 318.5L361.2 318.6L361.8 318.6L362.2 318.4L362.8 318.1L363.2 317.7L363.8 317.2L364.2 316.6L364.8 315.8L365.2 315.0L365.8 314.0L366.2 312.9L366.8 311.7L367.2 310.4L367.8 309.0L368.2 307.5L368.8 306.0L369.2 304.3L369.8 302.6L370.2 300.9L370.8 299.1L371.2 297.2L371.8 295.3L372.2 293.3L372.8 291.4L373.2 289.4L373.8 287.4L374.2 285.4L374.8 283.4L375.2 281.4L375.8 279.5L376.2 277.5L376.8 275.7L377.2 273.8L377.8 272.0L378.2 270.3L378.8 268.6L379.2 267.0L379.8 265.5L380.2 264.0L380.8 262.7L381.2 261.4L381.8 260.3L382.2 259.2L382.8 258.3L383.2 257.5L383.8 256.7L384.2 256.2L384.8 255.7L385.2 255.3L385.8 255.1L386.2 255.0L386.8 255.0L387.2 255.2L387.8 255.5L388.2 255.9L388.8 256.5L389.2 257.2L389.8 258.1L390.2 259.0L390.8 260.1L391.2 261.3L391.8 262.6L392.2 264.0L392.8 265.5L393.2 267.1L393.8 268.7L394.2 270.5L394.8 272.3L395.2 274.1L395.8 276.0L396.2 278.0L396.8 279.9L397.2 281.9L397.8 283.9L398.2 285.9L398.8 287.9L399.2 289.8L399.8 291.8L400.2 293.7L400.8 295.5L401.2 297.3L401.8 299.0L402.2 300.7L402.8 302.2L403.2 303.7L403.8 305.1L404.2 306.4L404.8 307.5L405.2 308.6L405.8 309.5L406.2 310.3L406.8 311.0L407.2 311.6L407.8 312.0L408.2 312.2L408.8 312.4L409.2 312.4L409.8 312.3L410.2 312.0L410.8 311.6L411.2 311.1L411.8 310.4L412.2 309.6L412.8 308.7L413.2 307.7L413.8 306.6L414.2 305.4L414.8 304.0L415.2 302.6L415.8 301.1L416.2 299.4L416.8 297.7L417.2 296.0L417.8 294.1L418.2 292.2L418.8 290.3L419.2 288.3L419.8 286.3L420.2 284.2L420.8 282.2L421.2 280.1L421.8 278.0L422.2 276.0L422.8 273.9L423.2 271.9L423.8 269.9L424.2 267.9L424.8 266.0L425.2 264.2L425.8 262.4L426.2 260.7L426.8 259.1L427.2 257.5L427.8 256.1L428.2 254.7L428.8 253.4L429.2 252.3L429.8 251.2L430.2 250.3L430.8 249.5L431.2 248.9L431.8 248.3L432.2 247.9L432.8 247.6L433.2 247.4L433.8 247.4L434.2 247.5L434.8 247.8L435.2 248.2L435.8 248.7L436.2 249.4L436.8 250.2L437.2 251.1L437.8 252.2L438.2 253.4L438.8 254.6L439.2 256.0L439.8 257.5L440.2 259.1L440.8 260.8L441.2 262.6L441.8 264.4L442.2 266.2L442.8 268.2L443.2 270.1L443.8 272.1L444.2 274.2L444.8 276.2L445.2 278.2L445.8 280.3L446.2 282.3L446.8 284.2L447.2 286.2L447.8 288.1L448.2 289.9L448.8 291.7L449.2 293.3L449.8 295.0L450.2 296.5L450.8 297.9L451.2 299.2L451.8 300.4L452.2 301.5L452.8 302.4L453.2 303.3L453.8 304.0L454.2 304.5L454.8 305.0L455.2 305.2L455.8 305.4L456.2 305.4L456.8 305.2L457.2 305.0L457.8 304.6L458.2 304.0L458.8 303.4L459.2 302.6L459.8 301.7L460.2 300.7L460.8 299.5L461.2 298.3L461.8 296.9L462.2 295.4L462.8 293.9L463.2 292.2L463.8 290.5L464.2 288.7L464.8 286.8L465.2 284.9L465.8 282.9L466.2 280.9L466.8 278.8L467.2 276.7L467.8 274.6L468.2 272.5L468.8 270.3L469.2 268.2L469.8 266.1L470.2 264.0L470.8 261.9L471.2 259.9L471.8 257.9L472.2 256.0L472.8 254.1L473.2 252.3L473.8 250.6L474.2 248.9L474.8 247.4L475.2 245.9L475.8 244.5L476.2 243.3L476.8 242.1L477.2 241.1L477.8 240.2L478.2 239.4L478.8 238.8L479.2 238.2L479.8 237.8L480.2 237.6L480.8 237.4L481.2 237.4L481.8 237.6L482.2 237.9L482.8 238.3L483.2 238.9L483.8 239.6L484.2 240.4L484.8 241.4L485.2 242.5L485.8 243.7L486.2 245.0L486.8 246.5L487.2 248.0L487.8 249.7L488.2 251.4L488.8 253.2L489.2 255.0L489.8 257.0L490.2 258.9L490.8 260.9L491.2 263.0L491.8 265.0L492.2 267.1L492.8 269.2L493.2 271.2L493.8 273.3L494.2 275.3L494.8 277.2L495.2 279.1L495.8 281.0L496.2 282.8L496.8 284.5L497.2 286.1L497.8 287.6L498.2 289.0L498.8 290.3L499.2 291.5L499.8 292.6L500.2 293.6L500.8 294.4L501.2 295.1L501.8 295.6L502.2 296.0L502.8 296.3L503.2 296.4L503.8 296.4L504.2 296.2L504.8 295.9L505.2 295.5L505.8 294.9L506.2 294.2L506.8 293.3L507.2 292.4L507.8 291.3L508.2 290.1L508.8 288.7L509.2 287.3L509.8 285.8L510.2 284.1L510.8 282.4L511.2 280.6L511.8 278.7L512.2 276.8L512.8 274.8L513.2 272.7L513.8 270.6L514.2 268.4L514.8 266.3L515.2 264.1L515.8 261.9L516.2 259.7L516.8 257.4L517.2 255.3L517.8 253.1L518.2 251.0L518.8 248.9L519.2 246.8L519.8 244.8L520.2 242.9L520.8 241.1L521.2 239.3L521.8 237.6L522.2 236.0L522.8 234.5L523.2 233.1L523.8 231.8L524.2 230.7L524.8 229.6L525.2 228.7L525.8 227.9L526.2 227.3L526.8 226.8L527.2 226.4L527.8 226.1L528.2 226.0L528.8 226.0L529.2 226.2L529.8 226.6L530.2 227.0L530.8 227.7L531.2 228.4L531.8 229.3L532.2 230.4L532.8 231.6L533.2 232.9L533.8 234.3L534.2 235.8L534.8 237.4L535.2 239.2L535.8 241.0L536.2 242.8L536.8 244.8L537.2 246.8L537.8 248.8L538.2 250.9L538.8 253.0L539.2 255.2L539.8 257.3L540.2 259.4L540.8 261.5L541.2 263.6L541.8 265.6L542.2 267.6L542.8 269.5L543.2 271.4L543.8 273.1L544.2 274.8L544.8 276.4L545.2 277.9L545.8 279.3L546.2 280.5L546.8 281.6L547.2 282.6L547.8 283.5L548.2 284.2L548.8 284.8L549.2 285.2L549.8 285.5L550.2 285.6L550.8 285.6L551.2 285.4L551.8 285.1L552.2 284.6L552.8 284.0L553.2 283.3L553.8 282.4L554.2 281.4L554.8 280.3L555.2 279.0L555.8 277.7L556.2 276.2L556.8 274.6L557.2 272.9L557.8 271.1L558.2 269.2L558.8 267.3L559.2 265.3L559.8 263.2L560.2 261.0L560.8 258.8L561.2 256.6L561.8 254.3L562.2 252.0L562.8 249.7L563.2 247.4L563.8 245.1L564.2 242.8L564.8 240.5L565.2 238.2L565.8 236.0L566.2 233.9" fill="none" stroke="#111" stroke-width="2" stroke-linejoin="round"/></g>
<path d="M96.75 403.25h12.25M566.25 403.25h-12.25" stroke="#000" stroke-width="1" fill="none"/>
<text transform="translate(85.50 408.55)" text-anchor="end">-400</text>
<path d="M96.75 352.33h12.25M566.25 352.33h-12.25" stroke="#000" stroke-width="1" fill="none"/>
<text transform="translate(85.50 357.63)" text-anchor="end">-200</text>
<path d="M96.75 301.40h12.25M566.25 301.40h-12.25" stroke="#000" stroke-width="1" fill="none"/>
<text transform="translate(85.50 306.70)" text-anchor="end">0</text>
<path d="M96.75 250.48h12.25M566.25 250.48h-12.25" stroke="#000" stroke-width="1" fill="none"/>
<text transform="translate(85.50 255.78)" text-anchor="end">200</text>
<path d="M96.75 199.56h12.25M566.25 199.56h-12.25" stroke="#000" stroke-width="1" fill="none"/>
<text transform="translate(85.50 204.86)" text-anchor="end">400</text>
<path d="M96.75 148.63h12.25M566.25 148.63h-12.25" stroke="#000" stroke-width="1" fill="none"/>
<text transform="translate(85.50 153.93)" text-anchor="end">600</text>
<path d="M96.75 97.71h12.25M566.25 97.71h-12.25" stroke="#000" stroke-width="1" fill="none"/>
<text transform="translate(85.50 103.01)" text-anchor="end">800</text>
<path d="M143.70 72.25v12.25M143.70 403.25v-12.25" stroke="#000" stroke-width="1" fill="none"/>
<text transform="translate(143.75 432.3)" text-anchor="middle">2016</text>
<path d="M237.60 72.25v12.25M237.60 403.25v-12.25" stroke="#000" stroke-width="1" fill="none"/>
<text transform="translate(237.65 432.3)" text-anchor="middle">2018</text>
<path d="M331.50 72.25v12.25M331.50 403.25v-12.25" stroke="#000" stroke-width="1" fill="none"/>
<text transform="translate(331.55 432.3)" text-anchor="middle">2020</text>
<path d="M425.40 72.25v12.25M425.40 403.25v-12.25" stroke="#000" stroke-width="1" fill="none"/>
<text transform="translate(425.45 432.3)" text-anchor="middle">2022</text>
<path d="M519.30 72.25v12.25M519.30 403.25v-12.25" stroke="#000" stroke-width="1" fill="none"/>
<text transform="translate(519.35 432.3)" text-anchor="middle">2024</text>
<rect x="96.75" y="72.25" width="469.50" height="331.00" fill="none" stroke="#000" stroke-width="1.5"/>
<text transform="translate(331.50 41)" text-anchor="middle">NIMAv2-JPL9 // (469505) 2003FE128</text>
<text transform="translate(331.15 468)" text-anchor="middle">date</text>
<text transform="translate(34.3 237.40) rotate(-90)" font-size="16.05" text-anchor="middle">difference in R.A. (mas)</text>
<linearGradient id="g2" gradientUnits="userSpaceOnUse" x1="696.63" y1="0" x2="702.63" y2="0" spreadMethod="repeat"><stop offset="0" stop-color="#606060"/><stop offset="0.3333" stop-color="#606060"/><stop offset="0.3333" stop-color="#606060" stop-opacity="0"/><stop offset="1" stop-color="#606060" stop-opacity="0"/></linearGradient>
<clipPath id="c2"><rect x="696.75" y="72.25" width="469.50" height="331.00"/></clipPath>
<g clip-path="url(#c2)"><path d="M696.8 148.2L697.2 148.2L697.8 148.2L698.2 148.2L698.8 148.2L699.2 148.1L699.8 148.0L700.2 147.9L700.8 147.8L701.2 147.7L701.8 147.5L702.2 147.4L702.8 147.2L703.2 147.0L703.8 146.9L704.2 146.7L704.8 146.6L705.2 146.5L705.8 146.4L706.2 146.3L706.8 146.2L707.2 146.2L707.8 146.2L708.2 146.1L708.8 145.8L709.2 145.4L709.8 144.9L710.2 144.2L710.8 143.5L711.2 142.6L711.8 141.7L712.2 140.6L712.8 139.5L713.2 138.3L713.8 137.1L714.2 135.8L714.8 134.5L715.2 133.1L715.8 131.8L716.2 130.4L716.8 129.1L717.2 127.8L717.8 126.5L718.2 125.3L718.8 124.2L719.2 123.1L719.8 122.1L720.2 121.3L720.8 120.5L721.2 119.8L721.8 119.3L722.2 118.9L722.8 118.6L723.2 118.4L723.8 118.4L724.2 118.5L724.8 118.8L725.2 119.2L725.8 119.8L726.2 120.4L726.8 121.3L727.2 122.2L727.8 123.3L728.2 124.4L728.8 125.6L729.2 126.9L729.8 128.3L730.2 129.7L730.8 131.2L731.2 132.7L731.8 134.1L732.2 135.6L732.8 137.0L733.2 138.4L733.8 139.8L734.2 141.0L734.8 142.2L735.2 143.3L735.8 144.3L736.2 145.1L736.8 145.9L737.2 146.5L737.8 147.0L738.2 147.3L738.8 147.5L739.2 147.5L739.8 147.5L740.2 147.6L740.8 147.8L741.2 148.0L741.8 148.2L742.2 148.4L742.8 148.7L743.2 148.9L743.8 149.2L744.2 149.4L744.8 149.6L745.2 149.7L745.8 149.8L746.2 149.9L746.8 149.9L747.2 149.9L747.8 149.8L748.2 149.7L748.8 149.5L749.2 149.3L749.8 149.1L750.2 148.9L750.8 148.7L751.2 148.5L751.8 148.3L752.2 148.1L752.8 147.9L753.2 147.8L753.8 147.6L754.2 147.6L754.8 147.5L755.2 147.5L755.8 147.4L756.2 147.1L756.8 146.7L757.2 146.2L757.8 145.5L758.2 144.7L758.8 143.8L759.2 142.8L759.8 141.7L760.2 140.5L760.8 139.3L761.2 138.0L761.8 136.6L762.2 135.2L762.8 133.8L763.2 132.4L763.8 131.0L764.2 129.6L764.8 128.2L765.2 127.0L765.8 125.7L766.2 124.6L766.8 123.6L767.2 122.6L767.8 121.8L768.2 121.1L768.8 120.5L769.2 120.0L769.8 119.7L770.2 119.5L770.8 119.5L771.2 119.6L771.8 119.8L772.2 120.2L772.8 120.6L773.2 121.2L773.8 121.8L774.2 122.6L774.8 123.5L775.2 124.4L775.8 125.5L776.2 126.6L776.8 127.7L777.2 128.9L777.8 130.2L778.2 131.5L778.8 132.8L779.2 134.1L779.8 135.4L780.2 136.7L780.8 138.0L781.2 139.2L781.8 140.4L782.2 141.5L782.8 142.6L783.2 143.6L783.8 144.5L784.2 145.3L784.8 146.0L785.2 146.6L785.8 147.1L786.2 147.5L786.8 147.7L787.2 147.9L787.8 147.9L788.2 148.0L788.8 148.1L789.2 148.2L789.8 148.4L790.2 148.7L790.8 148.9L791.2 149.2L791.8 149.4L792.2 149.6L792.8 149.8L793.2 149.9L793.8 150.0L794.2 150.0L794.8 149.9L795.2 149.8L795.8 149.6L796.2 149.4L796.8 149.2L797.2 148.9L797.8 148.7L798.2 148.4L798.8 148.2L799.2 148.1L799.8 148.0L800.2 147.9L800.8 147.9L801.2 147.7L801.8 147.5L802.2 147.1L802.8 146.7L803.2 146.1L803.8 145.5L804.2 144.7L804.8 143.9L805.2 143.0L805.8 142.0L806.2 141.0L806.8 139.9L807.2 138.7L807.8 137.5L808.2 136.3L808.8 135.1L809.2 133.9L809.8 132.7L810.2 131.5L810.8 130.3L811.2 129.2L811.8 128.1L812.2 127.0L812.8 126.0L813.2 125.1L813.8 124.3L814.2 123.5L814.8 122.8L815.2 122.3L815.8 121.8L816.2 121.4L816.8 121.2L817.2 121.0L817.8 121.0L818.2 121.1L818.8 121.3L819.2 121.6L819.8 122.0L820.2 122.4L820.8 123.0L821.2 123.7L821.8 124.4L822.2 125.2L822.8 126.1L823.2 127.0L823.8 128.0L824.2 129.1L824.8 130.2L825.2 131.3L825.8 132.4L826.2 133.5L826.8 134.7L827.2 135.8L827.8 136.9L828.2 138.0L828.8 139.1L829.2 140.1L829.8 141.1L830.2 142.1L830.8 143.0L831.2 143.8L831.8 144.5L832.2 145.2L832.8 145.7L833.2 146.2L833.8 146.6L834.2 146.9L834.8 147.2L835.2 147.3L835.8 147.3L836.2 147.4L836.8 147.5L837.2 147.7L837.8 147.9L838.2 148.2L838.8 148.5L839.2 148.7L839.8 149.0L840.2 149.2L840.8 149.3L841.2 149.4L841.8 149.4L842.2 149.3L842.8 149.2L843.2 149.0L843.8 148.7L844.2 148.5L844.8 148.2L845.2 147.9L845.8 147.7L846.2 147.5L846.8 147.4L847.2 147.3L847.8 147.3L848.2 147.2L848.8 146.9L849.2 146.6L849.8 146.2L850.2 145.7L850.8 145.1L851.2 144.5L851.8 143.7L852.2 142.9L852.8 142.1L853.2 141.1L853.8 140.1L854.2 139.1L854.8 138.0L855.2 136.9L855.8 135.8L856.2 134.7L856.8 133.6L857.2 132.5L857.8 131.3L858.2 130.3L858.8 129.2L859.2 128.2L859.8 127.2L860.2 126.3L860.8 125.4L861.2 124.7L861.8 123.9L862.2 123.3L862.8 122.8L863.2 122.3L863.8 122.0L864.2 121.7L864.8 121.6L865.2 121.6L865.8 121.8L866.2 122.0L866.8 122.4L867.2 122.9L867.8 123.5L868.2 124.1L868.8 124.9L869.2 125.7L869.8 126.7L870.2 127.6L870.8 128.7L871.2 129.7L871.8 130.8L872.2 132.0L872.8 133.1L873.2 134.3L873.8 135.4L874.2 136.5L874.8 137.6L875.2 138.7L875.8 139.7L876.2 140.7L876.8 141.6L877.2 142.4L877.8 143.2L878.2 143.9L878.8 144.5L879.2 145.0L879.8 145.4L880.2 145.7L880.8 145.9L881.2 146.0L881.8 146.0L882.2 146.1L882.8 146.3L883.2 146.6L883.8 146.9L884.2 147.2L884.8 147.5L885.2 147.7L885.8 147.9L886.2 148.0L886.8 148.0L887.2 148.0L887.8 147.9L888.2 147.8L888.8 147.6L889.2 147.5L889.8 147.3L890.2 147.1L890.8 146.8L891.2 146.6L891.8 146.4L892.2 146.3L892.8 146.1L893.2 146.0L893.8 145.9L894.2 145.8L894.8 145.8L895.2 145.7L895.8 145.5L896.2 145.2L896.8 144.9L897.2 144.5L897.8 143.9L898.2 143.3L898.8 142.7L899.2 141.9L899.8 141.1L900.2 140.3L900.8 139.4L901.2 138.4L901.8 137.4L902.2 136.4L902.8 135.4L903.2 134.3L903.8 133.3L904.2 132.2L904.8 131.2L905.2 130.1L905.8 129.1L906.2 128.2L906.8 127.2L907.2 126.3L907.8 125.5L908.2 124.7L908.8 124.0L909.2 123.4L909.8 122.9L910.2 122.4L910.8 122.0L911.2 121.8L911.8 121.6L912.2 121.6L912.8 121.8L913.2 122.1L913.8 122.4L914.2 122.9L914.8 123.5L915.2 124.2L915.8 124.9L916.2 125.7L916.8 126.6L917.2 127.5L917.8 128.5L918.2 129.5L918.8 130.5L919.2 131.5L919.8 132.6L920.2 133.7L920.8 134.7L921.2 135.7L921.8 136.7L922.2 137.7L922.8 138.6L923.2 139.5L923.8 140.3L924.2 141.1L924.8 141.8L925.2 142.4L925.8 142.9L926.2 143.4L926.8 143.7L927.2 144.0L927.8 144.2L928.2 144.3L928.8 144.3L929.2 144.4L929.8 144.7L930.2 144.9L930.8 145.2L931.2 145.5L931.8 145.7L932.2 145.9L932.8 146.0L933.2 146.0L933.8 146.0L934.2 145.9L934.8 145.8L935.2 145.6L935.8 145.4L936.2 145.3L936.8 145.1L937.2 144.9L937.8 144.7L938.2 144.5L938.8 144.4L939.2 144.3L939.8 144.2L940.2 144.2L940.8 144.1L941.2 144.0L941.8 143.8L942.2 143.5L942.8 143.2L943.2 142.8L943.8 142.3L944.2 141.8L944.8 141.2L945.2 140.6L945.8 139.9L946.2 139.2L946.8 138.4L947.2 137.6L947.8 136.8L948.2 136.0L948.8 135.1L949.2 134.2L949.8 133.3L950.2 132.4L950.8 131.5L951.2 130.6L951.8 129.8L952.2 128.9L952.8 128.0L953.2 127.2L953.8 126.4L954.2 125.7L954.8 125.0L955.2 124.3L955.8 123.7L956.2 123.2L956.8 122.7L957.2 122.3L957.8 122.0L958.2 121.8L958.8 121.6L959.2 121.6L959.8 121.7L960.2 121.9L960.8 122.2L961.2 122.5L961.8 122.9L962.2 123.4L962.8 123.9L963.2 124.4L963.8 125.0L964.2 125.6L964.8 126.3L965.2 127.0L965.8 127.7L966.2 128.5L966.8 129.2L967.2 130.0L967.8 130.8L968.2 131.6L968.8 132.4L969.2 133.2L969.8 134.0L970.2 134.7L970.8 135.5L971.2 136.3L971.8 137.0L972.2 137.7L972.8 138.4L973.2 139.0L973.8 139.6L974.2 140.2L974.8 140.8L975.2 141.3L975.8 141.7L976.2 142.1L976.8 142.5L977.2 142.8L977.8 143.1L978.2 143.3L978.8 143.4L979.2 143.5L979.8 143.6L980.2 143.6L980.8 143.6L981.2 143.5L981.8 143.4L982.2 143.2L982.8 143.1L983.2 142.9L983.8 142.6L984.2 142.3L984.8 142.0L985.2 141.7L985.8 141.3L986.2 140.9L986.8 140.5L987.2 140.0L987.8 139.6L988.2 139.1L988.8 138.5L989.2 138.0L989.8 137.4L990.2 136.9L990.8 136.3L991.2 135.7L991.8 135.0L992.2 134.4L992.8 133.8L993.2 133.1L993.8 132.5L994.2 131.8L994.8 131.2L995.2 130.5L995.8 129.9L996.2 129.2L996.8 128.6L997.2 128.0L997.8 127.4L998.2 126.8L998.8 126.2L999.2 125.6L999.8 125.1L1000.2 124.6L1000.8 124.1L1001.2 123.6L1001.8 123.2L1002.2 122.8L1002.8 122.4L1003.2 122.0L1003.8 121.7L1004.2 121.5L1004.8 121.3L1005.2 121.1L1005.8 121.0L1006.2 121.0L1006.8 121.1L1007.2 121.3L1007.8 121.6L1008.2 121.9L1008.8 122.2L1009.2 122.6L1009.8 123.1L1010.2 123.6L1010.8 124.1L1011.2 124.6L1011.8 125.2L1012.2 125.8L1012.8 126.4L1013.2 127.1L1013.8 127.7L1014.2 128.4L1014.8 129.1L1015.2 129.8L1015.8 130.4L1016.2 131.1L1016.8 131.8L1017.2 132.5L1017.8 133.1L1018.2 133.8L1018.8 134.4L1019.2 135.1L1019.8 135.7L1020.2 136.2L1020.8 136.8L1021.2 137.3L1021.8 137.8L1022.2 138.3L1022.8 138.7L1023.2 139.1L1023.8 139.5L1024.2 139.8L1024.8 140.1L1025.2 140.4L1025.8 140.6L1026.2 140.7L1026.8 140.9L1027.2 141.0L1027.8 141.0L1028.2 141.0L1028.8 141.0L1029.2 140.9L1029.8 140.8L1030.2 140.7L1030.8 140.5L1031.2 140.3L1031.8 140.0L1032.2 139.8L1032.8 139.5L1033.2 139.1L1033.8 138.8L1034.2 138.4L1034.8 138.0L1035.2 137.6L1035.8 137.1L1036.2 136.6L1036.8 136.1L1037.2 135.6L1037.8 135.1L1038.2 134.5L1038.8 133.9L1039.2 133.3L1039.8 132.7L1040.2 132.1L1040.8 131.5L1041.2 130.9L1041.8 130.3L1042.2 129.7L1042.8 129.0L1043.2 128.4L1043.8 127.8L1044.2 127.2L1044.8 126.6L1045.2 126.0L1045.8 125.4L1046.2 124.9L1046.8 124.3L1047.2 123.8L1047.8 123.3L1048.2 122.8L1048.8 122.4L1049.2 121.9L1049.8 121.5L1050.2 121.2L1050.8 120.8L1051.2 120.6L1051.8 120.3L1052.2 120.1L1052.8 120.0L1053.2 120.0L1053.8 120.2L1054.2 120.4L1054.8 120.7L1055.2 121.0L1055.8 121.4L1056.2 121.8L1056.8 122.3L1057.2 122.8L1057.8 123.3L1058.2 123.8L1058.8 124.4L1059.2 125.0L1059.8 125.7L1060.2 126.3L1060.8 126.9L1061.2 127.6L1061.8 128.2L1062.2 128.9L1062.8 129.6L1063.2 130.2L1063.8 130.9L1064.2 131.5L1064.8 132.1L1065.2 132.7L1065.8 133.3L1066.2 133.9L1066.8 134.4L1067.2 134.9L1067.8 135.4L1068.2 135.9L1068.8 136.3L1069.2 136.7L1069.8 137.1L1070.2 137.4L1070.8 137.7L1071.2 138.0L1071.8 138.2L1072.2 138.3L1072.8 138.5L1073.2 138.6L1073.8 138.6L1074.2 138.6L1074.8 138.6L1075.2 138.5L1075.8 138.4L1076.2 138.3L1076.8 138.1L1077.2 138.0L1077.8 137.7L1078.2 137.5L1078.8 137.2L1079.2 136.9L1079.8 136.6L1080.2 136.3L1080.8 135.9L1081.2 135.5L1081.8 135.1L1082.2 134.7L1082.8 134.2L1083.2 133.7L1083.8 133.2L1084.2 132.7L1084.8 132.2L1085.2 131.7L1085.8 131.1L1086.2 130.6L1086.8 130.0L1087.2 129.4L1087.8 128.8L1088.2 128.3L1088.8 127.7L1089.2 127.1L1089.8 126.5L1090.2 125.9L1090.8 125.4L1091.2 124.8L1091.8 124.3L1092.2 123.7L1092.8 123.2L1093.2 122.7L1093.8 122.2L1094.2 121.7L1094.8 121.3L1095.2 120.8L1095.8 120.4L1096.2 120.1L1096.8 119.7L1097.2 119.4L1097.8 119.2L1098.2 118.9L1098.8 118.8L1099.2 118.6L1099.8 118.6L1100.2 118.7L1100.8 118.9L1101.2 119.2L1101.8 119.5L1102.2 119.8L1102.8 120.2L1103.2 120.7L1103.8 121.1L1104.2 121.6L1104.8 122.1L1105.2 122.7L1105.8 123.2L1106.2 123.8L1106.8 124.4L1107.2 125.0L1107.8 125.6L1108.2 126.2L1108.8 126.8L1109.2 127.5L1109.8 128.1L1110.2 128.7L1110.8 129.2L1111.2 129.8L1111.8 130.4L1112.2 130.9L1112.8 131.4L1113.2 131.9L1113.8 132.4L1114.2 132.8L1114.8 133.2L1115.2 133.6L1115.8 134.0L1116.2 134.3L1116.8 134.6L1117.2 134.8L1117.8 135.0L1118.2 135.2L1118.8 135.3L1119.2 135.4L1119.8 135.4L1120.2 135.4L1120.8 135.4L1121.2 135.3L1121.8 135.2L1122.2 135.1L1122.8 135.0L1123.2 134.9L1123.8 134.7L1124.2 134.5L1124.8 134.3L1125.2 134.0L1125.8 133.8L1126.2 133.5L1126.8 133.2L1127.2 132.8L1127.8 132.5L1128.2 132.1L1128.8 131.8L1129.2 131.4L1129.8 130.9L1130.2 130.5L1130.8 130.1L1131.2 129.6L1131.8 129.2L1132.2 128.7L1132.8 128.2L1133.2 127.7L1133.8 127.2L1134.2 126.7L1134.8 126.3L1135.2 125.8L1135.8 125.3L1136.2 124.8L1136.8 124.3L1137.2 123.8L1137.8 123.3L1138.2 122.8L1138.8 122.4L1139.2 121.9L1139.8 121.5L1140.2 121.0L1140.8 120.6L1141.2 120.2L1141.8 119.8L1142.2 119.5L1142.8 119.1L1143.2 118.8L1143.8 118.6L1144.2 118.3L1144.8 118.1L1145.2 117.9L1145.8 117.7L1146.2 117.6L1146.8 117.6L1147.2 117.7L1147.8 117.9L1148.2 118.1L1148.8 118.4L1149.2 118.7L1149.8 119.0L1150.2 119.4L1150.8 119.8L1151.2 120.2L1151.8 120.7L1152.2 121.2L1152.8 121.7L1153.2 122.2L1153.8 122.7L1154.2 123.3L1154.8 123.8L1155.2 124.4L1155.8 124.9L1156.2 125.5L1156.8 126.0L1157.2 126.6L1157.8 127.1L1158.2 127.6L1158.8 128.1L1159.2 128.6L1159.8 129.1L1160.2 129.6L1160.8 130.1L1161.2 130.5L1161.8 130.9L1162.2 131.3L1162.8 131.6L1163.2 132.0L1163.8 132.3L1164.2 132.5L1164.8 132.8L1165.2 133.0L1165.8 133.1L1166.2 133.3L1166.2 385.1L1165.8 384.2L1165.2 383.2L1164.8 382.1L1164.2 381.0L1163.8 379.9L1163.2 378.7L1162.8 377.5L1162.2 376.3L1161.8 375.1L1161.2 373.9L1160.8 372.7L1160.2 371.5L1159.8 370.3L1159.2 369.1L1158.8 367.9L1158.2 366.8L1157.8 365.7L1157.2 364.6L1156.8 363.6L1156.2 362.6L1155.8 361.6L1155.2 360.7L1154.8 359.9L1154.2 359.1L1153.8 358.4L1153.2 357.8L1152.8 357.2L1152.2 356.7L1151.8 356.2L1151.2 355.8L1150.8 355.5L1150.2 355.3L1149.8 355.1L1149.2 355.0L1148.8 355.0L1148.2 355.0L1147.8 355.1L1147.2 355.2L1146.8 355.3L1146.2 355.6L1145.8 355.8L1145.2 356.2L1144.8 356.6L1144.2 357.0L1143.8 357.6L1143.2 358.1L1142.8 358.7L1142.2 359.4L1141.8 360.1L1141.2 360.9L1140.8 361.7L1140.2 362.5L1139.8 363.3L1139.2 364.2L1138.8 365.1L1138.2 366.0L1137.8 366.9L1137.2 367.9L1136.8 368.8L1136.2 369.7L1135.8 370.6L1135.2 371.5L1134.8 372.4L1134.2 373.2L1133.8 374.1L1133.2 374.8L1132.8 375.6L1132.2 376.3L1131.8 376.9L1131.2 377.5L1130.8 378.0L1130.2 378.5L1129.8 378.9L1129.2 379.3L1128.8 379.6L1128.2 379.8L1127.8 379.9L1127.2 380.0L1126.8 380.0L1126.2 379.9L1125.8 379.7L1125.2 379.5L1124.8 379.2L1124.2 378.8L1123.8 378.3L1123.2 377.8L1122.8 377.2L1122.2 376.5L1121.8 375.7L1121.2 374.9L1120.8 374.0L1120.2 373.1L1119.8 372.1L1119.2 371.1L1118.8 370.0L1118.2 368.9L1117.8 367.7L1117.2 366.5L1116.8 365.3L1116.2 364.1L1115.8 362.9L1115.2 361.6L1114.8 360.3L1114.2 359.1L1113.8 357.8L1113.2 356.6L1112.8 355.3L1112.2 354.1L1111.8 352.9L1111.2 351.8L1110.8 350.6L1110.2 349.6L1109.8 348.5L1109.2 347.5L1108.8 346.6L1108.2 345.7L1107.8 344.8L1107.2 344.0L1106.8 343.3L1106.2 342.7L1105.8 342.1L1105.2 341.5L1104.8 341.1L1104.2 340.7L1103.8 340.3L1103.2 340.1L1102.8 339.9L1102.2 339.7L1101.8 339.6L1101.2 339.6L1100.8 339.6L1100.2 339.6L1099.8 339.7L1099.2 339.9L1098.8 340.1L1098.2 340.3L1097.8 340.6L1097.2 341.0L1096.8 341.4L1096.2 341.9L1095.8 342.5L1095.2 343.1L1094.8 343.7L1094.2 344.4L1093.8 345.2L1093.2 346.0L1092.8 346.8L1092.2 347.7L1091.8 348.6L1091.2 349.6L1090.8 350.5L1090.2 351.5L1089.8 352.5L1089.2 353.5L1088.8 354.5L1088.2 355.5L1087.8 356.5L1087.2 357.4L1086.8 358.4L1086.2 359.3L1085.8 360.2L1085.2 361.0L1084.8 361.8L1084.2 362.6L1083.8 363.2L1083.2 363.9L1082.8 364.5L1082.2 365.0L1081.8 365.4L1081.2 365.8L1080.8 366.1L1080.2 366.4L1079.8 366.5L1079.2 366.6L1078.8 366.6L1078.2 366.5L1077.8 366.3L1077.2 366.0L1076.8 365.6L1076.2 365.1L1075.8 364.6L1075.2 363.9L1074.8 363.2L1074.2 362.3L1073.8 361.4L1073.2 360.5L1072.8 359.4L1072.2 358.3L1071.8 357.1L1071.2 355.9L1070.8 354.7L1070.2 353.3L1069.8 352.0L1069.2 350.6L1068.8 349.2L1068.2 347.8L1067.8 346.4L1067.2 345.0L1066.8 343.6L1066.2 342.2L1065.8 340.8L1065.2 339.5L1064.8 338.2L1064.2 336.9L1063.8 335.6L1063.2 334.4L1062.8 333.3L1062.2 332.2L1061.8 331.2L1061.2 330.2L1060.8 329.4L1060.2 328.5L1059.8 327.8L1059.2 327.1L1058.8 326.5L1058.2 326.0L1057.8 325.6L1057.2 325.2L1056.8 324.9L1056.2 324.7L1055.8 324.5L1055.2 324.4L1054.8 324.4L1054.2 324.4L1053.8 324.4L1053.2 324.5L1052.8 324.6L1052.2 324.8L1051.8 325.0L1051.2 325.3L1050.8 325.6L1050.2 326.0L1049.8 326.5L1049.2 327.0L1048.8 327.6L1048.2 328.2L1047.8 328.9L1047.2 329.7L1046.8 330.5L1046.2 331.3L1045.8 332.2L1045.2 333.2L1044.8 334.2L1044.2 335.2L1043.8 336.2L1043.2 337.2L1042.8 338.3L1042.2 339.4L1041.8 340.4L1041.2 341.5L1040.8 342.6L1040.2 343.6L1039.8 344.6L1039.2 345.6L1038.8 346.5L1038.2 347.5L1037.8 348.3L1037.2 349.1L1036.8 349.9L1036.2 350.6L1035.8 351.2L1035.2 351.8L1034.8 352.2L1034.2 352.7L1033.8 353.0L1033.2 353.2L1032.8 353.4L1032.2 353.5L1031.8 353.5L1031.2 353.4L1030.8 353.2L1030.2 352.9L1029.8 352.5L1029.2 352.0L1028.8 351.4L1028.2 350.7L1027.8 350.0L1027.2 349.1L1026.8 348.2L1026.2 347.2L1025.8 346.1L1025.2 345.0L1024.8 343.8L1024.2 342.5L1023.8 341.2L1023.2 339.9L1022.8 338.5L1022.2 337.1L1021.8 335.7L1021.2 334.3L1020.8 332.9L1020.2 331.4L1019.8 330.0L1019.2 328.6L1018.8 327.2L1018.2 325.8L1017.8 324.5L1017.2 323.2L1016.8 321.9L1016.2 320.7L1015.8 319.5L1015.2 318.4L1014.8 317.4L1014.2 316.4L1013.8 315.5L1013.2 314.7L1012.8 314.0L1012.2 313.3L1011.8 312.7L1011.2 312.2L1010.8 311.7L1010.2 311.3L1009.8 311.0L1009.2 310.8L1008.8 310.6L1008.2 310.5L1007.8 310.4L1007.2 310.4L1006.8 310.4L1006.2 310.4L1005.8 310.5L1005.2 310.6L1004.8 310.8L1004.2 311.0L1003.8 311.3L1003.2 311.6L1002.8 312.0L1002.2 312.5L1001.8 313.1L1001.2 313.7L1000.8 314.4L1000.2 315.1L999.8 315.9L999.2 316.8L998.8 317.7L998.2 318.7L997.8 319.7L997.2 320.7L996.8 321.8L996.2 322.9L995.8 324.1L995.2 325.2L994.8 326.4L994.2 327.5L993.8 328.7L993.2 329.8L992.8 330.9L992.2 332.0L991.8 333.0L991.2 334.0L990.8 335.0L990.2 335.9L989.8 336.7L989.2 337.5L988.8 338.2L988.2 338.8L987.8 339.4L987.2 339.9L986.8 340.2L986.2 340.5L985.8 340.7L985.2 340.8L984.8 340.8L984.2 340.7L983.8 340.5L983.2 340.1L982.8 339.7L982.2 339.2L981.8 338.5L981.2 337.8L980.8 336.9L980.2 336.0L979.8 335.0L979.2 333.9L978.8 332.7L978.2 331.5L977.8 330.2L977.2 328.9L976.8 327.5L976.2 326.0L975.8 324.6L975.2 323.1L974.8 321.6L974.2 320.0L973.8 318.5L973.2 317.0L972.8 315.5L972.2 314.0L971.8 312.6L971.2 311.2L970.8 309.8L970.2 308.5L969.8 307.2L969.2 306.0L968.8 304.8L968.2 303.8L967.8 302.8L967.2 301.8L966.8 301.0L966.2 300.2L965.8 299.5L965.2 298.9L964.8 298.4L964.2 297.9L963.8 297.5L963.2 297.2L962.8 297.0L962.2 296.8L961.8 296.7L961.2 296.6L960.8 296.6L960.2 296.6L959.8 296.6L959.2 296.7L958.8 296.7L958.2 296.9L957.8 297.1L957.2 297.3L956.8 297.6L956.2 298.0L955.8 298.4L955.2 298.9L954.8 299.5L954.2 300.1L953.8 300.8L953.2 301.5L952.8 302.4L952.2 303.2L951.8 304.2L951.2 305.2L950.8 306.2L950.2 307.3L949.8 308.4L949.2 309.6L948.8 310.7L948.2 311.9L947.8 313.1L947.2 314.3L946.8 315.5L946.2 316.7L945.8 317.9L945.2 319.0L944.8 320.1L944.2 321.2L943.8 322.2L943.2 323.2L942.8 324.1L942.2 325.0L941.8 325.8L941.2 326.5L940.8 327.1L940.2 327.7L939.8 328.1L939.2 328.5L938.8 328.7L938.2 328.9L937.8 329.0L937.2 329.0L936.8 328.8L936.2 328.6L935.8 328.2L935.2 327.7L934.8 327.1L934.2 326.4L933.8 325.6L933.2 324.7L932.8 323.7L932.2 322.7L931.8 321.5L931.2 320.3L930.8 319.0L930.2 317.6L929.8 316.2L929.2 314.7L928.8 313.2L928.2 311.7L927.8 310.1L927.2 308.6L926.8 307.0L926.2 305.4L925.8 303.9L925.2 302.3L924.8 300.8L924.2 299.4L923.8 298.0L923.2 296.6L922.8 295.3L922.2 294.0L921.8 292.8L921.2 291.7L920.8 290.6L920.2 289.6L919.8 288.8L919.2 287.9L918.8 287.2L918.2 286.6L917.8 286.0L917.2 285.5L916.8 285.1L916.2 284.8L915.8 284.5L915.2 284.3L914.8 284.2L914.2 284.1L913.8 284.0L913.2 284.0L912.8 284.0L912.2 284.0L911.8 284.1L911.2 284.1L910.8 284.3L910.2 284.4L909.8 284.7L909.2 284.9L908.8 285.3L908.2 285.7L907.8 286.2L907.2 286.7L906.8 287.4L906.2 288.1L905.8 288.8L905.2 289.6L904.8 290.5L904.2 291.5L903.8 292.5L903.2 293.5L902.8 294.6L902.2 295.7L901.8 296.9L901.2 298.1L900.8 299.3L900.2 300.6L899.8 301.8L899.2 303.1L898.8 304.3L898.2 305.5L897.8 306.7L897.2 307.9L896.8 309.0L896.2 310.1L895.8 311.1L895.2 312.1L894.8 313.0L894.2 313.9L893.8 314.6L893.2 315.3L892.8 315.9L892.2 316.4L891.8 316.8L891.2 317.1L890.8 317.3L890.2 317.4L889.8 317.4L889.2 317.3L888.8 317.0L888.2 316.6L887.8 316.1L887.2 315.5L886.8 314.8L886.2 313.9L885.8 313.0L885.2 311.9L884.8 310.8L884.2 309.6L883.8 308.3L883.2 306.9L882.8 305.5L882.2 304.0L881.8 302.4L881.2 300.9L880.8 299.3L880.2 297.7L879.8 296.0L879.2 294.4L878.8 292.8L878.2 291.2L877.8 289.7L877.2 288.1L876.8 286.7L876.2 285.3L875.8 283.9L875.2 282.6L874.8 281.4L874.2 280.2L873.8 279.1L873.2 278.2L872.8 277.2L872.2 276.4L871.8 275.7L871.2 275.1L870.8 274.5L870.2 274.0L869.8 273.6L869.2 273.3L868.8 273.1L868.2 272.9L867.8 272.7L867.2 272.7L866.8 272.6L866.2 272.6L865.8 272.6L865.2 272.6L864.8 272.6L864.2 272.7L863.8 272.8L863.2 273.0L862.8 273.2L862.2 273.5L861.8 273.8L861.2 274.2L860.8 274.7L860.2 275.2L859.8 275.8L859.2 276.5L858.8 277.3L858.2 278.1L857.8 279.0L857.2 280.0L856.8 281.0L856.2 282.1L855.8 283.2L855.2 284.4L854.8 285.6L854.2 286.9L853.8 288.2L853.2 289.5L852.8 290.8L852.2 292.1L851.8 293.4L851.2 294.7L850.8 296.0L850.2 297.2L849.8 298.4L849.2 299.6L848.8 300.7L848.2 301.7L847.8 302.7L847.2 303.6L846.8 304.4L846.2 305.1L845.8 305.8L845.2 306.3L844.8 306.7L844.2 307.1L843.8 307.3L843.2 307.4L842.8 307.4L842.2 307.3L841.8 307.0L841.2 306.6L840.8 306.1L840.2 305.4L839.8 304.7L839.2 303.8L838.8 302.8L838.2 301.7L837.8 300.6L837.2 299.3L836.8 298.0L836.2 296.5L835.8 295.1L835.2 293.5L834.8 292.0L834.2 290.3L833.8 288.7L833.2 287.1L832.8 285.4L832.2 283.8L831.8 282.2L831.2 280.6L830.8 279.0L830.2 277.5L829.8 276.0L829.2 274.6L828.8 273.2L828.2 271.9L827.8 270.7L827.2 269.6L826.8 268.6L826.2 267.6L825.8 266.7L825.2 265.9L824.8 265.2L824.2 264.6L823.8 264.1L823.2 263.7L822.8 263.3L822.2 263.0L821.8 262.8L821.2 262.6L820.8 262.5L820.2 262.4L819.8 262.4L819.2 262.4L818.8 262.4L818.2 262.4L817.8 262.4L817.2 262.5L816.8 262.6L816.2 262.7L815.8 262.9L815.2 263.2L814.8 263.5L814.2 263.8L813.8 264.3L813.2 264.8L812.8 265.4L812.2 266.0L811.8 266.8L811.2 267.6L810.8 268.4L810.2 269.4L809.8 270.4L809.2 271.5L808.8 272.6L808.2 273.8L807.8 275.0L807.2 276.3L806.8 277.6L806.2 278.9L805.8 280.3L805.2 281.6L804.8 283.0L804.2 284.3L803.8 285.7L803.2 287.0L802.8 288.3L802.2 289.5L801.8 290.7L801.2 291.8L800.8 292.9L800.2 293.9L799.8 294.8L799.2 295.6L798.8 296.4L798.2 297.0L797.8 297.6L797.2 298.0L796.8 298.3L796.2 298.5L795.8 298.6L795.2 298.6L794.8 298.4L794.2 298.1L793.8 297.7L793.2 297.2L792.8 296.5L792.2 295.8L791.8 294.9L791.2 293.9L790.8 292.8L790.2 291.6L789.8 290.3L789.2 289.0L788.8 287.6L788.2 286.1L787.8 284.6L787.2 283.0L786.8 281.4L786.2 279.8L785.8 278.2L785.2 276.5L784.8 274.9L784.2 273.3L783.8 271.7L783.2 270.1L782.8 268.6L782.2 267.2L781.8 265.8L781.2 264.4L780.8 263.1L780.2 261.9L779.8 260.8L779.2 259.8L778.8 258.8L778.2 257.9L777.8 257.2L777.2 256.5L776.8 255.8L776.2 255.3L775.8 254.8L775.2 254.5L774.8 254.1L774.2 253.9L773.8 253.7L773.2 253.6L772.8 253.5L772.2 253.4L771.8 253.4L771.2 253.4L770.8 253.4L770.2 253.4L769.8 253.4L769.2 253.5L768.8 253.6L768.2 253.7L767.8 253.9L767.2 254.2L766.8 254.5L766.2 254.9L765.8 255.4L765.2 256.0L764.8 256.6L764.2 257.3L763.8 258.2L763.2 259.1L762.8 260.0L762.2 261.1L761.8 262.2L761.2 263.5L760.8 264.7L760.2 266.1L759.8 267.5L759.2 268.9L758.8 270.4L758.2 271.9L757.8 273.4L757.2 274.9L756.8 276.4L756.2 277.9L755.8 279.4L755.2 280.8L754.8 282.2L754.2 283.6L753.8 284.8L753.2 286.0L752.8 287.1L752.2 288.2L751.8 289.1L751.2 289.9L750.8 290.5L750.2 291.1L749.8 291.5L749.2 291.8L748.8 292.0L748.2 292.0L747.8 291.9L747.2 291.6L746.8 291.2L746.2 290.7L745.8 290.1L745.2 289.3L744.8 288.4L744.2 287.4L743.8 286.2L743.2 285.0L742.8 283.7L742.2 282.3L741.8 280.8L741.2 279.3L740.8 277.7L740.2 276.0L739.8 274.3L739.2 272.6L738.8 270.9L738.2 269.2L737.8 267.5L737.2 265.8L736.8 264.2L736.2 262.6L735.8 261.0L735.2 259.5L734.8 258.0L734.2 256.6L733.8 255.3L733.2 254.1L732.8 253.0L732.2 251.9L731.8 250.9L731.2 250.0L730.8 249.2L730.2 248.5L729.8 247.9L729.2 247.4L728.8 247.0L728.2 246.6L727.8 246.3L727.2 246.1L726.8 245.9L726.2 245.8L725.8 245.7L725.2 245.6L724.8 245.6L724.2 245.6L723.8 245.6L723.2 245.6L722.8 245.6L722.2 245.7L721.8 245.8L721.2 245.9L720.8 246.1L720.2 246.4L719.8 246.7L719.2 247.1L718.8 247.6L718.2 248.2L717.8 248.9L717.2 249.7L716.8 250.5L716.2 251.5L715.8 252.6L715.2 253.7L714.8 254.9L714.2 256.3L713.8 257.7L713.2 259.1L712.8 260.7L712.2 262.2L711.8 263.9L711.2 265.5L710.8 267.2L710.2 268.9L709.8 270.6L709.2 272.2L708.8 273.8L708.2 275.4L707.8 277.0L707.2 278.5L706.8 279.9L706.2 281.2L705.8 282.4L705.2 283.5L704.8 284.4L704.2 285.3L703.8 286.0L703.2 286.6L702.8 287.0L702.2 287.3L701.8 287.4L701.2 287.4L700.8 287.2L700.2 286.9L699.8 286.4L699.2 285.8L698.8 285.1L698.2 284.2L697.8 283.3L697.2 282.2L696.8 281.0Z" fill="#cccccc"/></g>
<rect x="696.75" y="336.80" width="469.50" height="0.5" fill="url(#g2)"/>
<rect x="696.75" y="270.60" width="469.50" height="0.5" fill="url(#g2)"/>
<rect x="696.75" y="204.40" width="469.50" height="0.5" fill="url(#g2)"/>
<rect x="696.75" y="138.20" width="469.50" height="0.5" fill="url(#g2)"/>
<g clip-path="url(#c2)"><path d="M696.8 214.6L697.2 215.2L697.8 215.8L698.2 216.3L698.8 216.8L699.2 217.2L699.8 217.5L700.2 217.7L700.8 217.9L701.2 218.0L701.8 218.0L702.2 217.9L702.8 217.8L703.2 217.5L703.8 217.1L704.2 216.7L704.8 216.2L705.2 215.6L705.8 214.9L706.2 214.1L706.8 213.3L707.2 212.4L707.8 211.4L708.2 210.4L708.8 209.3L709.2 208.2L709.8 207.0L710.2 205.8L710.8 204.6L711.2 203.3L711.8 202.0L712.2 200.7L712.8 199.4L713.2 198.1L713.8 196.8L714.2 195.6L714.8 194.3L715.2 193.1L715.8 191.9L716.2 190.7L716.8 189.6L717.2 188.6L717.8 187.6L718.2 186.7L718.8 185.8L719.2 185.0L719.8 184.3L720.2 183.6L720.8 183.1L721.2 182.6L721.8 182.2L722.2 181.9L722.8 181.7L723.2 181.6L723.8 181.6L724.2 181.7L724.8 181.8L725.2 182.0L725.8 182.3L726.2 182.7L726.8 183.1L727.2 183.6L727.8 184.2L728.2 184.9L728.8 185.6L729.2 186.4L729.8 187.2L730.2 188.1L730.8 189.1L731.2 190.1L731.8 191.1L732.2 192.2L732.8 193.3L733.2 194.4L733.8 195.6L734.2 196.8L734.8 198.0L735.2 199.3L735.8 200.5L736.2 201.7L736.8 202.9L737.2 204.2L737.8 205.4L738.2 206.6L738.8 207.8L739.2 208.9L739.8 210.0L740.2 211.1L740.8 212.1L741.2 213.1L741.8 214.1L742.2 215.0L742.8 215.8L743.2 216.6L743.8 217.3L744.2 218.0L744.8 218.6L745.2 219.1L745.8 219.5L746.2 219.9L746.8 220.2L747.2 220.4L747.8 220.5L748.2 220.6L748.8 220.6L749.2 220.5L749.8 220.3L750.2 220.0L750.8 219.7L751.2 219.2L751.8 218.7L752.2 218.1L752.8 217.4L753.2 216.7L753.8 215.9L754.2 215.0L754.8 214.1L755.2 213.1L755.8 212.1L756.2 211.0L756.8 209.9L757.2 208.7L757.8 207.5L758.2 206.3L758.8 205.1L759.2 203.9L759.8 202.7L760.2 201.5L760.8 200.3L761.2 199.1L761.8 197.9L762.2 196.7L762.8 195.6L763.2 194.5L763.8 193.5L764.2 192.5L764.8 191.6L765.2 190.7L765.8 189.9L766.2 189.2L766.8 188.5L767.2 187.9L767.8 187.4L768.2 186.9L768.8 186.6L769.2 186.3L769.8 186.1L770.2 186.0L770.8 186.0L771.2 186.1L771.8 186.2L772.2 186.4L772.8 186.7L773.2 187.1L773.8 187.5L774.2 188.0L774.8 188.6L775.2 189.2L775.8 189.9L776.2 190.6L776.8 191.5L777.2 192.3L777.8 193.2L778.2 194.2L778.8 195.2L779.2 196.3L779.8 197.4L780.2 198.5L780.8 199.6L781.2 200.8L781.8 202.0L782.2 203.2L782.8 204.4L783.2 205.6L783.8 206.8L784.2 208.0L784.8 209.2L785.2 210.3L785.8 211.5L786.2 212.6L786.8 213.7L787.2 214.8L787.8 215.8L788.2 216.8L788.8 217.7L789.2 218.6L789.8 219.4L790.2 220.2L790.8 220.9L791.2 221.6L791.8 222.2L792.2 222.7L792.8 223.2L793.2 223.6L793.8 223.9L794.2 224.1L794.8 224.3L795.2 224.4L795.8 224.4L796.2 224.3L796.8 224.2L797.2 223.9L797.8 223.6L798.2 223.2L798.8 222.8L799.2 222.2L799.8 221.6L800.2 220.9L800.8 220.2L801.2 219.3L801.8 218.5L802.2 217.5L802.8 216.6L803.2 215.5L803.8 214.5L804.2 213.4L804.8 212.3L805.2 211.1L805.8 210.0L806.2 208.8L806.8 207.6L807.2 206.5L807.8 205.3L808.2 204.2L808.8 203.0L809.2 201.9L809.8 200.9L810.2 199.8L810.8 198.8L811.2 197.9L811.8 197.0L812.2 196.2L812.8 195.4L813.2 194.7L813.8 194.0L814.2 193.4L814.8 192.9L815.2 192.5L815.8 192.2L816.2 191.9L816.8 191.7L817.2 191.6L817.8 191.6L818.2 191.7L818.8 191.8L819.2 192.0L819.8 192.3L820.2 192.6L820.8 193.0L821.2 193.5L821.8 194.0L822.2 194.6L822.8 195.3L823.2 196.0L823.8 196.8L824.2 197.6L824.8 198.5L825.2 199.4L825.8 200.3L826.2 201.3L826.8 202.4L827.2 203.4L827.8 204.5L828.2 205.6L828.8 206.7L829.2 207.9L829.8 209.0L830.2 210.1L830.8 211.3L831.2 212.4L831.8 213.5L832.2 214.7L832.8 215.7L833.2 216.8L833.8 217.9L834.2 218.9L834.8 219.8L835.2 220.8L835.8 221.7L836.2 222.5L836.8 223.3L837.2 224.0L837.8 224.7L838.2 225.3L838.8 225.9L839.2 226.4L839.8 226.8L840.2 227.2L840.8 227.5L841.2 227.7L841.8 227.9L842.2 228.0L842.8 228.0L843.2 227.9L843.8 227.8L844.2 227.6L844.8 227.3L845.2 226.9L845.8 226.5L846.2 226.0L846.8 225.4L847.2 224.8L847.8 224.1L848.2 223.4L848.8 222.6L849.2 221.7L849.8 220.8L850.2 219.9L850.8 218.9L851.2 217.9L851.8 216.9L852.2 215.8L852.8 214.8L853.2 213.7L853.8 212.6L854.2 211.5L854.8 210.4L855.2 209.4L855.8 208.3L856.2 207.3L856.8 206.3L857.2 205.3L857.8 204.3L858.2 203.4L858.8 202.6L859.2 201.8L859.8 201.0L860.2 200.3L860.8 199.7L861.2 199.1L861.8 198.6L862.2 198.1L862.8 197.8L863.2 197.5L863.8 197.2L864.2 197.1L864.8 197.0L865.2 197.0L865.8 197.1L866.2 197.2L866.8 197.4L867.2 197.7L867.8 198.0L868.2 198.5L868.8 198.9L869.2 199.5L869.8 200.1L870.2 200.7L870.8 201.4L871.2 202.2L871.8 203.0L872.2 203.9L872.8 204.8L873.2 205.7L873.8 206.7L874.2 207.7L874.8 208.7L875.2 209.8L875.8 210.8L876.2 211.9L876.8 213.0L877.2 214.1L877.8 215.3L878.2 216.4L878.8 217.5L879.2 218.6L879.8 219.6L880.2 220.7L880.8 221.7L881.2 222.7L881.8 223.7L882.2 224.6L882.8 225.5L883.2 226.4L883.8 227.2L884.2 228.0L884.8 228.7L885.2 229.3L885.8 229.9L886.2 230.5L886.8 230.9L887.2 231.4L887.8 231.7L888.2 232.0L888.8 232.2L889.2 232.3L889.8 232.4L890.2 232.4L890.8 232.3L891.2 232.2L891.8 231.9L892.2 231.6L892.8 231.3L893.2 230.8L893.8 230.3L894.2 229.7L894.8 229.1L895.2 228.4L895.8 227.7L896.2 226.8L896.8 226.0L897.2 225.1L897.8 224.2L898.2 223.2L898.8 222.2L899.2 221.2L899.8 220.1L900.2 219.1L900.8 218.0L901.2 217.0L901.8 215.9L902.2 214.9L902.8 213.8L903.2 212.8L903.8 211.8L904.2 210.8L904.8 209.9L905.2 209.0L905.8 208.2L906.2 207.3L906.8 206.6L907.2 205.9L907.8 205.3L908.2 204.7L908.8 204.2L909.2 203.7L909.8 203.4L910.2 203.1L910.8 202.8L911.2 202.7L911.8 202.6L912.2 202.6L912.8 202.7L913.2 202.8L913.8 203.0L914.2 203.3L914.8 203.6L915.2 204.0L915.8 204.5L916.2 205.0L916.8 205.6L917.2 206.2L917.8 206.9L918.2 207.6L918.8 208.4L919.2 209.3L919.8 210.1L920.2 211.0L920.8 212.0L921.2 213.0L921.8 214.0L922.2 215.0L922.8 216.0L923.2 217.1L923.8 218.2L924.2 219.3L924.8 220.3L925.2 221.4L925.8 222.5L926.2 223.6L926.8 224.6L927.2 225.6L927.8 226.6L928.2 227.6L928.8 228.6L929.2 229.5L929.8 230.3L930.2 231.2L930.8 232.0L931.2 232.7L931.8 233.4L932.2 234.0L932.8 234.6L933.2 235.1L933.8 235.6L934.2 236.0L934.8 236.3L935.2 236.6L935.8 236.8L936.2 236.9L936.8 237.0L937.2 237.0L937.8 236.9L938.2 236.8L938.8 236.6L939.2 236.3L939.8 236.0L940.2 235.6L940.8 235.1L941.2 234.6L941.8 234.1L942.2 233.4L942.8 232.8L943.2 232.0L943.8 231.3L944.2 230.5L944.8 229.6L945.2 228.8L945.8 227.9L946.2 226.9L946.8 226.0L947.2 225.0L947.8 224.1L948.2 223.1L948.8 222.1L949.2 221.2L949.8 220.2L950.2 219.3L950.8 218.3L951.2 217.4L951.8 216.5L952.2 215.7L952.8 214.9L953.2 214.1L953.8 213.4L954.2 212.7L954.8 212.1L955.2 211.5L955.8 211.0L956.2 210.5L956.8 210.1L957.2 209.7L957.8 209.5L958.2 209.2L958.8 209.1L959.2 209.0L959.8 209.0L960.2 209.1L960.8 209.2L961.2 209.4L961.8 209.6L962.2 209.9L962.8 210.3L963.2 210.7L963.8 211.2L964.2 211.7L964.8 212.3L965.2 213.0L965.8 213.7L966.2 214.4L966.8 215.2L967.2 216.1L967.8 216.9L968.2 217.8L968.8 218.8L969.2 219.7L969.8 220.7L970.2 221.7L970.8 222.7L971.2 223.8L971.8 224.8L972.2 225.8L972.8 226.8L973.2 227.9L973.8 228.9L974.2 229.9L974.8 230.9L975.2 231.8L975.8 232.8L976.2 233.7L976.8 234.5L977.2 235.4L977.8 236.2L978.2 236.9L978.8 237.6L979.2 238.3L979.8 238.9L980.2 239.4L980.8 239.9L981.2 240.3L981.8 240.7L982.2 241.0L982.8 241.2L983.2 241.4L983.8 241.5L984.2 241.6L984.8 241.6L985.2 241.5L985.8 241.4L986.2 241.1L986.8 240.9L987.2 240.5L987.8 240.1L988.2 239.7L988.8 239.2L989.2 238.6L989.8 238.0L990.2 237.3L990.8 236.6L991.2 235.8L991.8 235.0L992.2 234.2L992.8 233.3L993.2 232.5L993.8 231.6L994.2 230.6L994.8 229.7L995.2 228.8L995.8 227.8L996.2 226.9L996.8 226.0L997.2 225.0L997.8 224.1L998.2 223.3L998.8 222.4L999.2 221.6L999.8 220.8L1000.2 220.0L1000.8 219.3L1001.2 218.6L1001.8 218.0L1002.2 217.4L1002.8 216.9L1003.2 216.5L1003.8 216.1L1004.2 215.7L1004.8 215.5L1005.2 215.2L1005.8 215.1L1006.2 215.0L1006.8 215.0L1007.2 215.1L1007.8 215.2L1008.2 215.3L1008.8 215.6L1009.2 215.9L1009.8 216.3L1010.2 216.7L1010.8 217.2L1011.2 217.7L1011.8 218.3L1012.2 218.9L1012.8 219.6L1013.2 220.3L1013.8 221.1L1014.2 221.9L1014.8 222.8L1015.2 223.7L1015.8 224.6L1016.2 225.5L1016.8 226.5L1017.2 227.5L1017.8 228.5L1018.2 229.5L1018.8 230.5L1019.2 231.5L1019.8 232.5L1020.2 233.5L1020.8 234.5L1021.2 235.5L1021.8 236.5L1022.2 237.4L1022.8 238.3L1023.2 239.2L1023.8 240.1L1024.2 240.9L1024.8 241.7L1025.2 242.4L1025.8 243.1L1026.2 243.7L1026.8 244.3L1027.2 244.8L1027.8 245.3L1028.2 245.7L1028.8 246.1L1029.2 246.4L1029.8 246.7L1030.2 246.8L1030.8 246.9L1031.2 247.0L1031.8 247.0L1032.2 246.9L1032.8 246.8L1033.2 246.6L1033.8 246.3L1034.2 246.0L1034.8 245.6L1035.2 245.2L1035.8 244.7L1036.2 244.1L1036.8 243.5L1037.2 242.9L1037.8 242.2L1038.2 241.5L1038.8 240.7L1039.2 239.9L1039.8 239.1L1040.2 238.3L1040.8 237.4L1041.2 236.5L1041.8 235.6L1042.2 234.7L1042.8 233.9L1043.2 233.0L1043.8 232.1L1044.2 231.2L1044.8 230.3L1045.2 229.5L1045.8 228.7L1046.2 227.9L1046.8 227.1L1047.2 226.4L1047.8 225.7L1048.2 225.1L1048.8 224.5L1049.2 223.9L1049.8 223.4L1050.2 223.0L1050.8 222.6L1051.2 222.3L1051.8 222.0L1052.2 221.8L1052.8 221.7L1053.2 221.6L1053.8 221.6L1054.2 221.7L1054.8 221.8L1055.2 221.9L1055.8 222.2L1056.2 222.4L1056.8 222.8L1057.2 223.2L1057.8 223.7L1058.2 224.2L1058.8 224.7L1059.2 225.3L1059.8 226.0L1060.2 226.7L1060.8 227.4L1061.2 228.2L1061.8 229.0L1062.2 229.8L1062.8 230.7L1063.2 231.6L1063.8 232.5L1064.2 233.5L1064.8 234.4L1065.2 235.4L1065.8 236.3L1066.2 237.3L1066.8 238.2L1067.2 239.2L1067.8 240.1L1068.2 241.1L1068.8 242.0L1069.2 242.9L1069.8 243.8L1070.2 244.6L1070.8 245.4L1071.2 246.2L1071.8 246.9L1072.2 247.6L1072.8 248.3L1073.2 248.9L1073.8 249.4L1074.2 249.9L1074.8 250.4L1075.2 250.8L1075.8 251.2L1076.2 251.4L1076.8 251.7L1077.2 251.8L1077.8 251.9L1078.2 252.0L1078.8 252.0L1079.2 251.9L1079.8 251.8L1080.2 251.6L1080.8 251.4L1081.2 251.1L1081.8 250.7L1082.2 250.3L1082.8 249.9L1083.2 249.4L1083.8 248.9L1084.2 248.3L1084.8 247.7L1085.2 247.0L1085.8 246.3L1086.2 245.6L1086.8 244.9L1087.2 244.1L1087.8 243.3L1088.2 242.5L1088.8 241.7L1089.2 240.9L1089.8 240.1L1090.2 239.3L1090.8 238.5L1091.2 237.7L1091.8 236.9L1092.2 236.1L1092.8 235.4L1093.2 234.7L1093.8 234.0L1094.2 233.3L1094.8 232.7L1095.2 232.1L1095.8 231.6L1096.2 231.1L1096.8 230.7L1097.2 230.3L1097.8 229.9L1098.2 229.6L1098.8 229.4L1099.2 229.2L1099.8 229.1L1100.2 229.0L1100.8 229.0L1101.2 229.0L1101.8 229.1L1102.2 229.3L1102.8 229.5L1103.2 229.8L1103.8 230.1L1104.2 230.5L1104.8 230.9L1105.2 231.3L1105.8 231.9L1106.2 232.4L1106.8 233.0L1107.2 233.7L1107.8 234.3L1108.2 235.0L1108.8 235.8L1109.2 236.5L1109.8 237.3L1110.2 238.1L1110.8 239.0L1111.2 239.8L1111.8 240.7L1112.2 241.5L1112.8 242.4L1113.2 243.3L1113.8 244.1L1114.2 245.0L1114.8 245.9L1115.2 246.7L1115.8 247.5L1116.2 248.3L1116.8 249.1L1117.2 249.8L1117.8 250.5L1118.2 251.2L1118.8 251.9L1119.2 252.5L1119.8 253.0L1120.2 253.6L1120.8 254.0L1121.2 254.5L1121.8 254.8L1122.2 255.2L1122.8 255.4L1123.2 255.7L1123.8 255.8L1124.2 255.9L1124.8 256.0L1125.2 256.0L1125.8 255.9L1126.2 255.8L1126.8 255.7L1127.2 255.5L1127.8 255.3L1128.2 255.0L1128.8 254.7L1129.2 254.3L1129.8 253.9L1130.2 253.5L1130.8 253.0L1131.2 252.5L1131.8 251.9L1132.2 251.3L1132.8 250.7L1133.2 250.1L1133.8 249.5L1134.2 248.8L1134.8 248.1L1135.2 247.5L1135.8 246.8L1136.2 246.1L1136.8 245.4L1137.2 244.7L1137.8 244.0L1138.2 243.3L1138.8 242.7L1139.2 242.0L1139.8 241.4L1140.2 240.8L1140.8 240.2L1141.2 239.6L1141.8 239.1L1142.2 238.6L1142.8 238.2L1143.2 237.8L1143.8 237.4L1144.2 237.1L1144.8 236.8L1145.2 236.5L1145.8 236.3L1146.2 236.2L1146.8 236.1L1147.2 236.0L1147.8 236.0L1148.2 236.0L1148.8 236.1L1149.2 236.3L1149.8 236.5L1150.2 236.7L1150.8 237.1L1151.2 237.4L1151.8 237.8L1152.2 238.3L1152.8 238.8L1153.2 239.3L1153.8 239.9L1154.2 240.5L1154.8 241.1L1155.2 241.8L1155.8 242.5L1156.2 243.3L1156.8 244.0L1157.2 244.8L1157.8 245.6L1158.2 246.4L1158.8 247.2L1159.2 248.1L1159.8 248.9L1160.2 249.8L1160.8 250.6L1161.2 251.4L1161.8 252.2L1162.2 253.0L1162.8 253.8L1163.2 254.6L1163.8 255.3L1164.2 256.0L1164.8 256.7L1165.2 257.4L1165.8 258.0L1166.2 258.6" fill="none" stroke="#111" stroke-width="2" stroke-linejoin="round"/></g>
<path d="M696.75 403.25h12.25M1166.25 403.25h-12.25" stroke="#000" stroke-width="1" fill="none"/>
<text transform="translate(685.50 408.55)" text-anchor="end">-300</text>
<path d="M696.75 337.05h12.25M1166.25 337.05h-12.25" stroke="#000" stroke-width="1" fill="none"/>
<text transform="translate(685.50 342.35)" text-anchor="end">-200</text>
<path d="M696.75 270.85h12.25M1166.25 270.85h-12.25" stroke="#000" stroke-width="1" fill="none"/>
<text transform="translate(685.50 276.15)" text-anchor="end">-100</text>
<path d="M696.75 204.65h12.25M1166.25 204.65h-12.25" stroke="#000" stroke-width="1" fill="none"/>
<text transform="translate(685.50 209.95)" text-anchor="end">0</text>
<path d="M696.75 138.45h12.25M1166.25 138.45h-12.25" stroke="#000" stroke-width="1" fill="none"/>
<text transform="translate(685.50 143.75)" text-anchor="end">100</text>
<path d="M696.75 72.25h12.25M1166.25 72.25h-12.25" stroke="#000" stroke-width="1" fill="none"/>
<text transform="translate(685.50 77.55)" text-anchor="end">200</text>
<path d="M743.70 72.25v12.25M743.70 403.25v-12.25" stroke="#000" stroke-width="1" fill="none"/>
<text transform="translate(743.75 432.3)" text-anchor="middle">2016</text>
<path d="M837.60 72.25v12.25M837.60 403.25v-12.25" stroke="#000" stroke-width="1" fill="none"/>
<text transform="translate(837.65 432.3)" text-anchor="middle">2018</text>
<path d="M931.50 72.25v12.25M931.50 403.25v-12.25" stroke="#000" stroke-width="1" fill="none"/>
<text transform="translate(931.55 432.3)" text-anchor="middle">2020</text>
<path d="M1025.40 72.25v12.25M1025.40 403.25v-12.25" stroke="#000" stroke-width="1" fill="none"/>
<text transform="translate(1025.45 432.3)" text-anchor="middle">2022</text>
<path d="M1119.30 72.25v12.25M1119.30 403.25v-12.25" stroke="#000" stroke-width="1" fill="none"/>
<text transform="translate(1119.35 432.3)" text-anchor="middle">2024</text>
<rect x="696.75" y="72.25" width="469.50" height="331.00" fill="none" stroke="#000" stroke-width="1.5"/>
<text transform="translate(931.50 41)" text-anchor="middle">NIMAv2-JPL9 // (469505) 2003FE128</text>
<text transform="translate(931.15 468)" text-anchor="middle">date</text>
<text transform="translate(634.3 237.40) rotate(-90)" font-size="16.05" text-anchor="middle">difference in Dec. (mas)</text>
</svg>
</body></html>
